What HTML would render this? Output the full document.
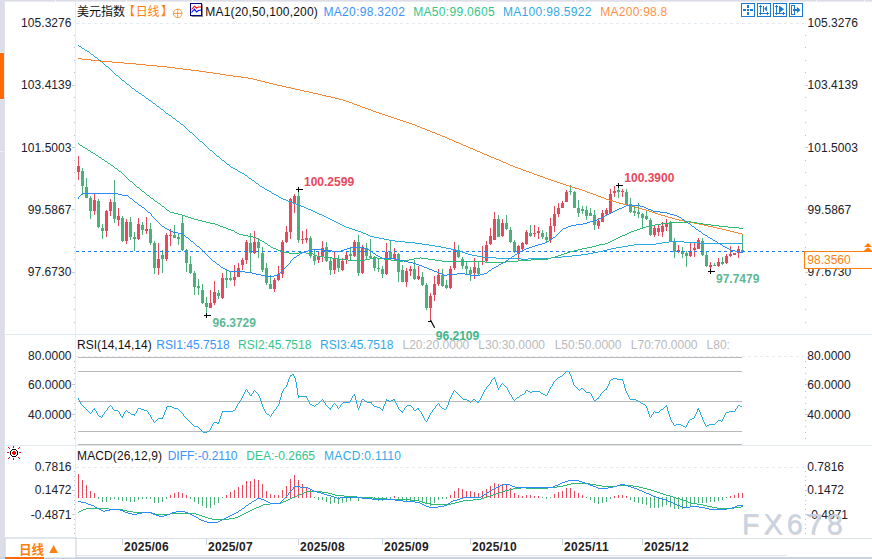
<!DOCTYPE html>
<html><head><meta charset="utf-8"><title>chart</title>
<style>
html,body{margin:0;padding:0;background:#fff;}
body{width:872px;height:559px;overflow:hidden;}
svg{display:block;font-family:"Liberation Sans",sans-serif;}
</style></head><body>
<svg width="872" height="559" viewBox="0 0 872 559">
<rect width="872" height="559" fill="#fff"/>
<rect x="0" y="0" width="872" height="1" fill="#dcdde6" />
<rect x="0" y="1" width="872" height="1" fill="#e9eaf0" />
<rect x="55" y="0" width="1" height="2" fill="#f4f5f8" />
<rect x="126" y="0" width="1" height="2" fill="#f4f5f8" />
<rect x="192" y="0" width="1" height="2" fill="#f4f5f8" />
<rect x="444" y="0" width="1" height="2" fill="#f4f5f8" />
<rect x="575" y="0" width="1" height="2" fill="#f4f5f8" />
<rect x="789" y="0" width="1" height="2" fill="#f4f5f8" />
<rect x="816" y="0" width="1" height="2" fill="#f4f5f8" />
<rect x="864" y="0" width="1" height="2" fill="#f4f5f8" />
<rect x="0" y="0" width="4" height="559" fill="#dcdde6" />
<rect x="4" y="2" width="1" height="557" fill="#e2e3ea" />
<rect x="0" y="53" width="4" height="46" fill="#ff6a00" />
<rect x="4" y="53" width="1" height="46" fill="#e6eef6" />
<rect x="0" y="52" width="5" height="1" fill="#e2e8f0" />
<rect x="0" y="99" width="5" height="1" fill="#dde6f0" />
<rect x="0" y="151" width="4" height="1" fill="#eceef3" />
<rect x="0" y="557" width="872" height="2" fill="#ccd3de" />
<rect x="75" y="2" width="1" height="537" fill="#e6ecf3" />
<rect x="5" y="334" width="867" height="1" fill="#e3e9f1" />
<rect x="5" y="445" width="867" height="1" fill="#e3e9f1" />
<rect x="5" y="538" width="867" height="1" fill="#d9e0ea" />
<rect x="75" y="555" width="712" height="1" fill="#dde5ef" />
<line x1="76" y1="23.5" x2="804" y2="23.5" stroke="#e3eaf1" stroke-width="1" stroke-dasharray="3,3"/>
<line x1="76" y1="356.5" x2="804" y2="356.5" stroke="#e3eaf1" stroke-width="1" stroke-dasharray="3,3"/>
<line x1="76" y1="467.5" x2="804" y2="467.5" stroke="#e3eaf1" stroke-width="1" stroke-dasharray="3,3"/>
<rect x="74" y="35" width="1" height="1" fill="#b4bfcf" />
<rect x="805" y="35" width="1" height="1" fill="#b4bfcf" />
<rect x="74" y="47" width="1" height="1" fill="#b4bfcf" />
<rect x="805" y="47" width="1" height="1" fill="#b4bfcf" />
<rect x="74" y="60" width="1" height="1" fill="#b4bfcf" />
<rect x="805" y="60" width="1" height="1" fill="#b4bfcf" />
<rect x="74" y="72" width="1" height="1" fill="#b4bfcf" />
<rect x="805" y="72" width="1" height="1" fill="#b4bfcf" />
<rect x="72" y="85" width="3" height="1" fill="#c3ccd9" />
<rect x="805" y="85" width="3" height="1" fill="#c3ccd9" />
<rect x="74" y="97" width="1" height="1" fill="#b4bfcf" />
<rect x="805" y="97" width="1" height="1" fill="#b4bfcf" />
<rect x="74" y="110" width="1" height="1" fill="#b4bfcf" />
<rect x="805" y="110" width="1" height="1" fill="#b4bfcf" />
<rect x="74" y="122" width="1" height="1" fill="#b4bfcf" />
<rect x="805" y="122" width="1" height="1" fill="#b4bfcf" />
<rect x="74" y="135" width="1" height="1" fill="#b4bfcf" />
<rect x="805" y="135" width="1" height="1" fill="#b4bfcf" />
<rect x="72" y="147" width="3" height="1" fill="#c3ccd9" />
<rect x="805" y="147" width="3" height="1" fill="#c3ccd9" />
<rect x="74" y="160" width="1" height="1" fill="#b4bfcf" />
<rect x="805" y="160" width="1" height="1" fill="#b4bfcf" />
<rect x="74" y="172" width="1" height="1" fill="#b4bfcf" />
<rect x="805" y="172" width="1" height="1" fill="#b4bfcf" />
<rect x="74" y="185" width="1" height="1" fill="#b4bfcf" />
<rect x="805" y="185" width="1" height="1" fill="#b4bfcf" />
<rect x="74" y="197" width="1" height="1" fill="#b4bfcf" />
<rect x="805" y="197" width="1" height="1" fill="#b4bfcf" />
<rect x="72" y="209" width="3" height="1" fill="#c3ccd9" />
<rect x="805" y="209" width="3" height="1" fill="#c3ccd9" />
<rect x="74" y="222" width="1" height="1" fill="#b4bfcf" />
<rect x="805" y="222" width="1" height="1" fill="#b4bfcf" />
<rect x="74" y="234" width="1" height="1" fill="#b4bfcf" />
<rect x="805" y="234" width="1" height="1" fill="#b4bfcf" />
<rect x="74" y="247" width="1" height="1" fill="#b4bfcf" />
<rect x="805" y="247" width="1" height="1" fill="#b4bfcf" />
<rect x="74" y="259" width="1" height="1" fill="#b4bfcf" />
<rect x="805" y="259" width="1" height="1" fill="#b4bfcf" />
<rect x="72" y="272" width="3" height="1" fill="#c3ccd9" />
<rect x="805" y="272" width="3" height="1" fill="#c3ccd9" />
<rect x="74" y="284" width="1" height="1" fill="#b4bfcf" />
<rect x="805" y="284" width="1" height="1" fill="#b4bfcf" />
<rect x="74" y="297" width="1" height="1" fill="#b4bfcf" />
<rect x="805" y="297" width="1" height="1" fill="#b4bfcf" />
<rect x="74" y="309" width="1" height="1" fill="#b4bfcf" />
<rect x="805" y="309" width="1" height="1" fill="#b4bfcf" />
<rect x="74" y="322" width="1" height="1" fill="#b4bfcf" />
<rect x="805" y="322" width="1" height="1" fill="#b4bfcf" />
<text x="71.5" y="26.9" fill="#20202c" font-size="12" text-anchor="end" font-weight="normal" textLength="50.4">105.3276</text>
<text x="807.5" y="26.9" fill="#20202c" font-size="12" text-anchor="start" font-weight="normal" textLength="50.4">105.3276</text>
<text x="71.5" y="89.23" fill="#20202c" font-size="12" text-anchor="end" font-weight="normal" textLength="50.4">103.4139</text>
<text x="807.5" y="89.23" fill="#20202c" font-size="12" text-anchor="start" font-weight="normal" textLength="50.4">103.4139</text>
<text x="71.5" y="151.57" fill="#20202c" font-size="12" text-anchor="end" font-weight="normal" textLength="50.4">101.5003</text>
<text x="807.5" y="151.57" fill="#20202c" font-size="12" text-anchor="start" font-weight="normal" textLength="50.4">101.5003</text>
<text x="71.5" y="213.9" fill="#20202c" font-size="12" text-anchor="end" font-weight="normal" textLength="43.8">99.5867</text>
<text x="807.5" y="213.9" fill="#20202c" font-size="12" text-anchor="start" font-weight="normal" textLength="43.8">99.5867</text>
<text x="71.5" y="276.23" fill="#20202c" font-size="12" text-anchor="end" font-weight="normal" textLength="43.8">97.6730</text>
<text x="807.5" y="276.23" fill="#20202c" font-size="12" text-anchor="start" font-weight="normal" textLength="43.8">97.6730</text>
<text x="71.5" y="360.2" fill="#20202c" font-size="12" text-anchor="end" font-weight="normal" >80.0000</text>
<text x="807.3" y="360.2" fill="#20202c" font-size="12" text-anchor="start" font-weight="normal" >80.0000</text>
<text x="71.5" y="389.2" fill="#20202c" font-size="12" text-anchor="end" font-weight="normal" >60.0000</text>
<text x="807.3" y="389.2" fill="#20202c" font-size="12" text-anchor="start" font-weight="normal" >60.0000</text>
<rect x="72" y="384" width="3" height="1" fill="#c3ccd9" />
<rect x="805" y="384" width="3" height="1" fill="#c3ccd9" />
<text x="71.5" y="419.2" fill="#20202c" font-size="12" text-anchor="end" font-weight="normal" >40.0000</text>
<text x="807.3" y="419.2" fill="#20202c" font-size="12" text-anchor="start" font-weight="normal" >40.0000</text>
<rect x="72" y="414" width="3" height="1" fill="#c3ccd9" />
<rect x="805" y="414" width="3" height="1" fill="#c3ccd9" />
<rect x="74" y="361" width="1" height="1" fill="#b4bfcf" />
<rect x="805" y="361" width="1" height="1" fill="#b4bfcf" />
<rect x="74" y="367" width="1" height="1" fill="#b4bfcf" />
<rect x="805" y="367" width="1" height="1" fill="#b4bfcf" />
<rect x="74" y="373" width="1" height="1" fill="#b4bfcf" />
<rect x="805" y="373" width="1" height="1" fill="#b4bfcf" />
<rect x="74" y="379" width="1" height="1" fill="#b4bfcf" />
<rect x="805" y="379" width="1" height="1" fill="#b4bfcf" />
<rect x="74" y="391" width="1" height="1" fill="#b4bfcf" />
<rect x="805" y="391" width="1" height="1" fill="#b4bfcf" />
<rect x="74" y="397" width="1" height="1" fill="#b4bfcf" />
<rect x="805" y="397" width="1" height="1" fill="#b4bfcf" />
<rect x="74" y="403" width="1" height="1" fill="#b4bfcf" />
<rect x="805" y="403" width="1" height="1" fill="#b4bfcf" />
<rect x="74" y="409" width="1" height="1" fill="#b4bfcf" />
<rect x="805" y="409" width="1" height="1" fill="#b4bfcf" />
<rect x="74" y="420" width="1" height="1" fill="#b4bfcf" />
<rect x="805" y="420" width="1" height="1" fill="#b4bfcf" />
<rect x="74" y="426" width="1" height="1" fill="#b4bfcf" />
<rect x="805" y="426" width="1" height="1" fill="#b4bfcf" />
<rect x="74" y="432" width="1" height="1" fill="#b4bfcf" />
<rect x="805" y="432" width="1" height="1" fill="#b4bfcf" />
<rect x="74" y="438" width="1" height="1" fill="#b4bfcf" />
<rect x="805" y="438" width="1" height="1" fill="#b4bfcf" />
<text x="71.5" y="471.2" fill="#20202c" font-size="12" text-anchor="end" font-weight="normal" >0.7816</text>
<text x="807.3" y="471.2" fill="#20202c" font-size="12" text-anchor="start" font-weight="normal" >0.7816</text>
<text x="71.5" y="494.2" fill="#20202c" font-size="12" text-anchor="end" font-weight="normal" >0.1472</text>
<text x="807.3" y="494.2" fill="#20202c" font-size="12" text-anchor="start" font-weight="normal" >0.1472</text>
<rect x="72" y="490" width="3" height="1" fill="#c3ccd9" />
<rect x="805" y="490" width="3" height="1" fill="#c3ccd9" />
<text x="71.5" y="518.5" fill="#20202c" font-size="12" text-anchor="end" font-weight="normal" >-0.4871</text>
<text x="807.3" y="518.5" fill="#20202c" font-size="12" text-anchor="start" font-weight="normal" >-0.4871</text>
<rect x="72" y="514" width="3" height="1" fill="#c3ccd9" />
<rect x="805" y="514" width="3" height="1" fill="#c3ccd9" />
<rect x="74" y="471" width="1" height="1" fill="#b4bfcf" />
<rect x="805" y="471" width="1" height="1" fill="#b4bfcf" />
<rect x="74" y="476" width="1" height="1" fill="#b4bfcf" />
<rect x="805" y="476" width="1" height="1" fill="#b4bfcf" />
<rect x="74" y="480" width="1" height="1" fill="#b4bfcf" />
<rect x="805" y="480" width="1" height="1" fill="#b4bfcf" />
<rect x="74" y="485" width="1" height="1" fill="#b4bfcf" />
<rect x="805" y="485" width="1" height="1" fill="#b4bfcf" />
<rect x="74" y="495" width="1" height="1" fill="#b4bfcf" />
<rect x="805" y="495" width="1" height="1" fill="#b4bfcf" />
<rect x="74" y="500" width="1" height="1" fill="#b4bfcf" />
<rect x="805" y="500" width="1" height="1" fill="#b4bfcf" />
<rect x="74" y="504" width="1" height="1" fill="#b4bfcf" />
<rect x="805" y="504" width="1" height="1" fill="#b4bfcf" />
<rect x="74" y="509" width="1" height="1" fill="#b4bfcf" />
<rect x="805" y="509" width="1" height="1" fill="#b4bfcf" />
<rect x="74" y="519" width="1" height="1" fill="#b4bfcf" />
<rect x="805" y="519" width="1" height="1" fill="#b4bfcf" />
<rect x="74" y="524" width="1" height="1" fill="#b4bfcf" />
<rect x="805" y="524" width="1" height="1" fill="#b4bfcf" />
<rect x="74" y="528" width="1" height="1" fill="#b4bfcf" />
<rect x="805" y="528" width="1" height="1" fill="#b4bfcf" />
<rect x="74" y="533" width="1" height="1" fill="#b4bfcf" />
<rect x="805" y="533" width="1" height="1" fill="#b4bfcf" />
<rect x="78" y="357" width="664" height="1" fill="#b8b8b8" />
<rect x="78" y="371" width="664" height="1" fill="#b8b8b8" />
<rect x="78" y="401" width="664" height="1" fill="#b8b8b8" />
<rect x="78" y="431" width="664" height="1" fill="#b8b8b8" />
<rect x="78" y="444" width="664" height="1" fill="#b8b8b8" />
<path d="M78 398h1v2h-1zM79 400h1v2h-1zM80 402h1v2h-1zM81 404h1v1h-1zM82 405h1v1h-1zM83 406h1v1h-1zM84 407h1v1h-1zM85 408h1v1h-1zM86 409h1v1h-1zM87 410h1v1h-1zM88 411h1v1h-1zM89 412h1v1h-1zM90 413h1v1h-1zM91 412h1v1h-1zM92 410h1v2h-1zM93 409h1v1h-1zM94 408h1v2h-1zM95 410h1v1h-1zM96 411h1v2h-1zM97 413h1v2h-1zM98 415h1v1h-1zM99 416h2v1h-2zM101 417h1v1h-1zM102 415h1v2h-1zM103 414h1v1h-1zM104 412h1v2h-1zM105 411h1v1h-1zM106 410h1v1h-1zM107 408h1v2h-1zM108 407h1v1h-1zM109 406h1v1h-1zM110 405h1v1h-1zM111 406h1v1h-1zM112 407h1v2h-1zM113 409h1v1h-1zM114 410h4v1h-4zM118 411h1v1h-1zM119 412h1v2h-1zM120 414h1v2h-1zM121 416h1v1h-1zM122 416h1v2h-1zM123 414h1v2h-1zM124 412h1v2h-1zM125 411h1v1h-1zM126 410h1v1h-1zM127 411h1v1h-1zM128 412h2v1h-2zM130 413h1v1h-1zM131 414h3v1h-3zM134 414h1v2h-1zM135 413h1v1h-1zM136 411h1v2h-1zM137 409h1v2h-1zM138 408h3v1h-3zM141 409h3v1h-3zM144 410h3v1h-3zM147 411h1v1h-1zM148 412h1v2h-1zM149 414h1v1h-1zM150 415h1v2h-1zM151 417h1v2h-1zM152 419h1v1h-1zM153 420h1v2h-1zM154 422h1v1h-1zM155 421h1v1h-1zM156 420h1v1h-1zM157 419h1v1h-1zM158 418h4v1h-4zM162 417h1v2h-1zM163 415h1v2h-1zM164 412h1v3h-1zM165 410h1v2h-1zM166 407h1v3h-1zM167 406h5v1h-5zM172 407h2v1h-2zM174 408h4v1h-4zM178 409h1v1h-1zM179 410h1v1h-1zM180 411h1v1h-1zM181 412h1v1h-1zM182 413h1v1h-1zM183 414h1v2h-1zM184 416h1v1h-1zM185 417h1v1h-1zM186 418h1v1h-1zM187 419h1v1h-1zM188 420h1v1h-1zM189 421h1v1h-1zM190 422h1v1h-1zM191 423h1v1h-1zM192 424h1v1h-1zM193 425h1v1h-1zM194 426h4v1h-4zM198 427h1v1h-1zM199 428h1v1h-1zM200 429h1v1h-1zM201 430h1v1h-1zM202 431h1v1h-1zM203 432h4v1h-4zM207 431h2v1h-2zM209 430h1v1h-1zM210 428h1v2h-1zM211 426h1v2h-1zM212 424h1v2h-1zM213 423h1v1h-1zM214 422h3v1h-3zM217 423h1v1h-1zM218 422h1v2h-1zM219 419h1v3h-1zM220 416h1v3h-1zM221 413h1v3h-1zM222 411h1v2h-1zM223 411h10v1h-10zM233 410h2v1h-2zM235 408h1v2h-1zM236 406h1v2h-1zM237 404h1v2h-1zM238 403h1v1h-1zM239 401h1v2h-1zM240 400h1v1h-1zM241 398h1v2h-1zM242 396h1v2h-1zM243 394h1v2h-1zM244 392h1v2h-1zM245 390h1v2h-1zM246 389h1v1h-1zM247 390h1v2h-1zM248 392h1v1h-1zM249 393h1v2h-1zM250 395h1v1h-1zM251 394h1v2h-1zM252 393h1v1h-1zM253 391h1v2h-1zM254 390h1v1h-1zM255 391h1v1h-1zM256 392h1v1h-1zM257 393h1v1h-1zM258 394h1v2h-1zM259 396h1v2h-1zM260 398h1v3h-1zM261 401h1v3h-1zM262 404h1v3h-1zM263 407h1v2h-1zM264 409h1v2h-1zM265 411h1v2h-1zM266 413h1v1h-1zM267 414h2v1h-2zM269 415h1v1h-1zM270 416h1v1h-1zM271 414h1v2h-1zM272 413h1v1h-1zM273 411h1v2h-1zM274 410h1v1h-1zM275 409h1v1h-1zM276 407h1v2h-1zM277 406h1v1h-1zM278 404h1v2h-1zM279 400h1v4h-1zM280 397h1v3h-1zM281 393h1v4h-1zM282 391h1v2h-1zM283 389h1v2h-1zM284 388h1v1h-1zM285 387h1v1h-1zM286 385h1v2h-1zM287 382h1v3h-1zM288 379h1v3h-1zM289 377h1v2h-1zM290 375h1v2h-1zM291 375h1v1h-1zM292 374h1v1h-1zM293 374h1v2h-1zM294 376h1v2h-1zM295 378h1v4h-1zM296 382h1v6h-1zM297 388h1v7h-1zM298 395h1v3h-1zM299 396h7v1h-7zM306 396h1v2h-1zM307 398h1v2h-1zM308 400h1v2h-1zM309 402h1v2h-1zM310 404h2v1h-2zM312 405h2v1h-2zM314 406h1v1h-1zM315 405h1v1h-1zM316 404h2v1h-2zM318 403h1v1h-1zM319 402h1v1h-1zM320 401h1v1h-1zM321 400h1v1h-1zM322 399h1v1h-1zM323 400h1v2h-1zM324 402h1v1h-1zM325 403h1v2h-1zM326 405h1v1h-1zM327 406h1v1h-1zM328 407h1v1h-1zM329 408h1v1h-1zM330 408h1v2h-1zM331 407h1v1h-1zM332 405h1v2h-1zM333 404h1v1h-1zM334 403h1v1h-1zM335 404h1v1h-1zM336 405h1v1h-1zM337 406h1v2h-1zM338 408h1v1h-1zM339 407h1v1h-1zM340 405h1v2h-1zM341 404h1v1h-1zM342 403h1v1h-1zM343 402h7v1h-7zM350 400h1v2h-1zM351 398h1v2h-1zM352 396h1v2h-1zM353 395h1v1h-1zM354 394h1v2h-1zM355 396h1v4h-1zM356 400h1v4h-1zM357 404h1v4h-1zM358 408h1v2h-1zM359 406h1v2h-1zM360 403h1v3h-1zM361 400h1v3h-1zM362 399h2v1h-2zM364 400h1v1h-1zM365 401h2v1h-2zM367 402h4v1h-4zM371 402h1v2h-1zM372 404h1v1h-1zM373 405h1v1h-1zM374 406h3v1h-3zM377 407h3v1h-3zM380 408h1v1h-1zM381 409h1v1h-1zM382 409h1v2h-1zM383 406h1v3h-1zM384 404h1v2h-1zM385 401h1v3h-1zM386 399h1v2h-1zM387 400h2v1h-2zM389 401h2v1h-2zM391 400h2v1h-2zM393 399h1v1h-1zM394 399h1v2h-1zM395 401h1v2h-1zM396 403h1v2h-1zM397 405h1v2h-1zM398 407h1v2h-1zM399 409h1v1h-1zM400 410h1v1h-1zM401 411h1v1h-1zM402 411h1v2h-1zM403 410h1v1h-1zM404 408h1v2h-1zM405 407h1v1h-1zM406 406h1v1h-1zM407 405h4v1h-4zM411 406h1v1h-1zM412 407h1v1h-1zM413 408h1v2h-1zM414 410h2v1h-2zM416 409h1v1h-1zM417 408h1v1h-1zM418 408h1v2h-1zM419 410h1v1h-1zM420 411h1v1h-1zM421 412h1v2h-1zM422 414h1v2h-1zM423 416h1v2h-1zM424 418h1v2h-1zM425 420h1v1h-1zM426 421h1v1h-1zM427 419h1v2h-1zM428 417h1v2h-1zM429 415h1v2h-1zM430 413h1v2h-1zM431 412h1v1h-1zM432 410h1v2h-1zM433 409h1v1h-1zM434 408h1v1h-1zM435 406h1v2h-1zM436 405h1v1h-1zM437 404h1v1h-1zM438 403h1v1h-1zM439 404h1v2h-1zM440 406h1v1h-1zM441 407h1v1h-1zM442 408h2v1h-2zM444 409h2v1h-2zM446 407h1v2h-1zM447 405h1v2h-1zM448 402h1v3h-1zM449 399h1v3h-1zM450 397h1v2h-1zM451 395h1v2h-1zM452 393h1v2h-1zM453 391h1v2h-1zM454 390h1v1h-1zM455 391h1v1h-1zM456 392h1v1h-1zM457 393h1v1h-1zM458 394h1v1h-1zM459 395h1v1h-1zM460 396h1v1h-1zM461 397h1v1h-1zM462 398h1v1h-1zM463 399h4v1h-4zM467 400h2v1h-2zM469 401h1v1h-1zM470 402h1v1h-1zM471 401h1v1h-1zM472 400h1v1h-1zM473 399h2v1h-2zM475 400h1v1h-1zM476 401h1v1h-1zM477 402h1v1h-1zM478 401h1v2h-1zM479 400h1v1h-1zM480 398h1v2h-1zM481 396h1v2h-1zM482 394h1v2h-1zM483 392h1v2h-1zM484 390h1v2h-1zM485 389h1v1h-1zM486 387h1v2h-1zM487 386h1v1h-1zM488 385h1v1h-1zM489 384h1v1h-1zM490 382h1v2h-1zM491 380h1v2h-1zM492 379h1v1h-1zM493 378h1v1h-1zM494 377h1v2h-1zM495 379h1v3h-1zM496 382h1v3h-1zM497 385h1v3h-1zM498 388h1v2h-1zM499 387h1v1h-1zM500 385h1v2h-1zM501 384h1v1h-1zM502 383h1v1h-1zM503 384h1v1h-1zM504 385h1v1h-1zM505 386h1v1h-1zM506 387h1v1h-1zM507 388h1v2h-1zM508 390h1v2h-1zM509 392h1v2h-1zM510 394h1v1h-1zM511 395h1v2h-1zM512 397h1v2h-1zM513 399h1v1h-1zM514 400h1v1h-1zM515 399h1v1h-1zM516 398h1v1h-1zM517 397h2v1h-2zM519 396h1v1h-1zM520 395h2v1h-2zM522 394h2v1h-2zM524 393h1v1h-1zM525 391h1v2h-1zM526 390h2v1h-2zM528 391h2v1h-2zM530 392h2v1h-2zM532 391h8v1h-8zM540 392h1v1h-1zM541 393h2v1h-2zM543 394h2v1h-2zM545 395h2v1h-2zM547 393h1v2h-1zM548 391h1v2h-1zM549 389h1v2h-1zM550 387h1v2h-1zM551 386h1v1h-1zM552 384h1v2h-1zM553 382h1v2h-1zM554 381h1v1h-1zM555 380h1v1h-1zM556 379h1v1h-1zM557 378h1v1h-1zM558 377h2v1h-2zM560 376h2v1h-2zM562 375h1v1h-1zM563 374h1v1h-1zM564 373h1v1h-1zM565 372h1v1h-1zM566 371h3v1h-3zM569 372h1v2h-1zM570 374h1v2h-1zM571 376h1v3h-1zM572 379h1v3h-1zM573 382h1v3h-1zM574 385h1v1h-1zM575 386h1v1h-1zM576 387h1v1h-1zM577 388h1v1h-1zM578 389h1v1h-1zM579 390h1v1h-1zM580 389h1v1h-1zM581 388h2v1h-2zM583 389h1v1h-1zM584 390h1v1h-1zM585 391h1v1h-1zM586 392h4v1h-4zM590 393h1v1h-1zM591 394h1v2h-1zM592 396h1v2h-1zM593 398h1v2h-1zM594 400h2v1h-2zM596 399h1v1h-1zM597 398h1v1h-1zM598 397h1v2h-1zM599 396h1v1h-1zM600 394h1v2h-1zM601 393h1v1h-1zM602 392h1v1h-1zM603 391h1v1h-1zM604 390h1v1h-1zM605 389h1v1h-1zM606 388h1v2h-1zM607 386h1v2h-1zM608 384h1v2h-1zM609 381h1v3h-1zM610 380h1v1h-1zM611 379h2v1h-2zM613 378h4v1h-4zM617 379h5v1h-5zM622 379h1v2h-1zM623 381h1v3h-1zM624 384h1v4h-1zM625 388h1v3h-1zM626 391h1v2h-1zM627 393h1v2h-1zM628 395h1v2h-1zM629 397h1v2h-1zM630 399h6v1h-6zM636 400h2v1h-2zM638 401h2v1h-2zM640 402h1v1h-1zM641 403h2v1h-2zM643 404h2v1h-2zM645 405h1v1h-1zM646 406h1v2h-1zM647 408h1v3h-1zM648 411h1v3h-1zM649 414h1v3h-1zM650 417h1v1h-1zM651 415h1v2h-1zM652 414h1v1h-1zM653 412h1v2h-1zM654 411h1v1h-1zM655 412h4v1h-4zM659 411h1v1h-1zM660 410h1v1h-1zM661 409h2v1h-2zM663 408h1v1h-1zM664 407h1v1h-1zM665 406h1v1h-1zM666 405h1v2h-1zM667 407h1v4h-1zM668 411h1v3h-1zM669 414h1v3h-1zM670 417h1v3h-1zM671 420h1v2h-1zM672 422h1v1h-1zM673 423h1v2h-1zM674 425h2v1h-2zM676 424h5v1h-5zM681 425h2v1h-2zM683 426h2v1h-2zM685 427h1v1h-1zM686 425h1v2h-1zM687 423h1v2h-1zM688 421h1v2h-1zM689 420h1v1h-1zM690 419h2v1h-2zM692 418h2v1h-2zM694 416h1v2h-1zM695 414h1v2h-1zM696 412h1v2h-1zM697 409h1v3h-1zM698 408h1v2h-1zM699 410h1v2h-1zM700 412h1v3h-1zM701 415h1v2h-1zM702 417h1v3h-1zM703 420h1v2h-1zM704 422h1v2h-1zM705 424h1v2h-1zM706 426h1v1h-1zM707 425h2v1h-2zM709 424h6v1h-6zM715 423h1v1h-1zM716 422h1v1h-1zM717 421h1v1h-1zM718 420h3v1h-3zM721 421h1v1h-1zM722 419h1v2h-1zM723 417h1v2h-1zM724 415h1v2h-1zM725 413h1v2h-1zM726 412h3v1h-3zM729 411h6v1h-6zM735 409h1v2h-1zM736 408h1v1h-1zM737 406h1v2h-1zM738 405h2v1h-2zM740 406h2v1h-2z" fill="#29abe2"/>
<g shape-rendering="crispEdges">
<rect x="78" y="156" width="1" height="24" fill="#e8485c" />
<rect x="77" y="166" width="3" height="6" fill="#e8485c" />
<rect x="82" y="168" width="1" height="27" fill="#4cb07a" />
<rect x="81" y="171" width="3" height="15" fill="#4cb07a" />
<rect x="86" y="178" width="1" height="20" fill="#4cb07a" />
<rect x="85" y="187" width="3" height="11" fill="#4cb07a" />
<rect x="90" y="196" width="1" height="23" fill="#4cb07a" />
<rect x="89" y="198" width="3" height="13" fill="#4cb07a" />
<rect x="94" y="194" width="1" height="21" fill="#e8485c" />
<rect x="93" y="200" width="3" height="11" fill="#e8485c" />
<rect x="98" y="199" width="1" height="29" fill="#4cb07a" />
<rect x="97" y="201" width="3" height="26" fill="#4cb07a" />
<rect x="102" y="224" width="1" height="15" fill="#4cb07a" />
<rect x="101" y="228" width="3" height="3" fill="#4cb07a" />
<rect x="106" y="210" width="1" height="27" fill="#e8485c" />
<rect x="105" y="211" width="3" height="20" fill="#e8485c" />
<rect x="110" y="199" width="1" height="17" fill="#e8485c" />
<rect x="109" y="202" width="3" height="9" fill="#e8485c" />
<rect x="114" y="180" width="1" height="43" fill="#4cb07a" />
<rect x="113" y="202" width="3" height="17" fill="#4cb07a" />
<rect x="118" y="208" width="1" height="18" fill="#e8485c" />
<rect x="117" y="216" width="3" height="4" fill="#e8485c" />
<rect x="122" y="216" width="1" height="26" fill="#4cb07a" />
<rect x="121" y="218" width="3" height="23" fill="#4cb07a" />
<rect x="126" y="219" width="1" height="25" fill="#e8485c" />
<rect x="125" y="222" width="3" height="19" fill="#e8485c" />
<rect x="130" y="217" width="1" height="23" fill="#4cb07a" />
<rect x="129" y="222" width="3" height="15" fill="#4cb07a" />
<rect x="134" y="232" width="1" height="19" fill="#4cb07a" />
<rect x="133" y="237" width="3" height="2" fill="#4cb07a" />
<rect x="138" y="218" width="1" height="22" fill="#e8485c" />
<rect x="137" y="224" width="3" height="15" fill="#e8485c" />
<rect x="142" y="222" width="1" height="13" fill="#4cb07a" />
<rect x="141" y="225" width="3" height="5" fill="#4cb07a" />
<rect x="146" y="217" width="1" height="17" fill="#e8485c" />
<rect x="145" y="229" width="3" height="2" fill="#e8485c" />
<rect x="150" y="223" width="1" height="22" fill="#4cb07a" />
<rect x="149" y="229" width="3" height="14" fill="#4cb07a" />
<rect x="154" y="241" width="1" height="33" fill="#4cb07a" />
<rect x="153" y="243" width="3" height="25" fill="#4cb07a" />
<rect x="158" y="243" width="1" height="32" fill="#e8485c" />
<rect x="157" y="259" width="3" height="9" fill="#e8485c" />
<rect x="162" y="250" width="1" height="23" fill="#4cb07a" />
<rect x="161" y="255" width="3" height="4" fill="#4cb07a" />
<rect x="166" y="233" width="1" height="28" fill="#e8485c" />
<rect x="165" y="235" width="3" height="24" fill="#e8485c" />
<rect x="170" y="229" width="1" height="17" fill="#e8485c" />
<rect x="169" y="235" width="3" height="1" fill="#e8485c" />
<rect x="174" y="225" width="1" height="13" fill="#4cb07a" />
<rect x="173" y="235" width="3" height="3" fill="#4cb07a" />
<rect x="178" y="234" width="1" height="11" fill="#4cb07a" />
<rect x="177" y="237" width="3" height="2" fill="#4cb07a" />
<rect x="182" y="215" width="1" height="36" fill="#4cb07a" />
<rect x="181" y="223" width="3" height="27" fill="#4cb07a" />
<rect x="186" y="249" width="1" height="23" fill="#4cb07a" />
<rect x="185" y="250" width="3" height="13" fill="#4cb07a" />
<rect x="190" y="256" width="1" height="18" fill="#4cb07a" />
<rect x="189" y="264" width="3" height="9" fill="#4cb07a" />
<rect x="194" y="271" width="1" height="24" fill="#4cb07a" />
<rect x="193" y="273" width="3" height="14" fill="#4cb07a" />
<rect x="198" y="279" width="1" height="16" fill="#4cb07a" />
<rect x="197" y="286" width="3" height="2" fill="#4cb07a" />
<rect x="202" y="284" width="1" height="20" fill="#4cb07a" />
<rect x="201" y="290" width="3" height="13" fill="#4cb07a" />
<rect x="206" y="297" width="1" height="18" fill="#4cb07a" />
<rect x="205" y="303" width="3" height="4" fill="#4cb07a" />
<rect x="210" y="290" width="1" height="18" fill="#e8485c" />
<rect x="209" y="303" width="3" height="5" fill="#e8485c" />
<rect x="214" y="281" width="1" height="24" fill="#e8485c" />
<rect x="213" y="292" width="3" height="11" fill="#e8485c" />
<rect x="218" y="290" width="1" height="9" fill="#4cb07a" />
<rect x="217" y="293" width="3" height="3" fill="#4cb07a" />
<rect x="222" y="273" width="1" height="26" fill="#e8485c" />
<rect x="221" y="278" width="3" height="20" fill="#e8485c" />
<rect x="226" y="269" width="1" height="19" fill="#4cb07a" />
<rect x="225" y="278" width="3" height="2" fill="#4cb07a" />
<rect x="230" y="271" width="1" height="10" fill="#4cb07a" />
<rect x="229" y="278" width="3" height="2" fill="#4cb07a" />
<rect x="234" y="265" width="1" height="21" fill="#e8485c" />
<rect x="233" y="277" width="3" height="3" fill="#e8485c" />
<rect x="238" y="263" width="1" height="14" fill="#e8485c" />
<rect x="237" y="268" width="3" height="9" fill="#e8485c" />
<rect x="242" y="258" width="1" height="12" fill="#e8485c" />
<rect x="241" y="260" width="3" height="5" fill="#e8485c" />
<rect x="246" y="240" width="1" height="24" fill="#e8485c" />
<rect x="245" y="242" width="3" height="18" fill="#e8485c" />
<rect x="250" y="233" width="1" height="39" fill="#4cb07a" />
<rect x="249" y="243" width="3" height="10" fill="#4cb07a" />
<rect x="254" y="231" width="1" height="23" fill="#e8485c" />
<rect x="253" y="242" width="3" height="11" fill="#e8485c" />
<rect x="258" y="238" width="1" height="20" fill="#4cb07a" />
<rect x="257" y="242" width="3" height="6" fill="#4cb07a" />
<rect x="262" y="247" width="1" height="25" fill="#4cb07a" />
<rect x="261" y="253" width="3" height="17" fill="#4cb07a" />
<rect x="266" y="263" width="1" height="22" fill="#4cb07a" />
<rect x="265" y="268" width="3" height="15" fill="#4cb07a" />
<rect x="270" y="275" width="1" height="14" fill="#4cb07a" />
<rect x="269" y="284" width="3" height="5" fill="#4cb07a" />
<rect x="274" y="278" width="1" height="14" fill="#e8485c" />
<rect x="273" y="280" width="3" height="9" fill="#e8485c" />
<rect x="278" y="266" width="1" height="15" fill="#e8485c" />
<rect x="277" y="274" width="3" height="6" fill="#e8485c" />
<rect x="282" y="240" width="1" height="38" fill="#e8485c" />
<rect x="281" y="242" width="3" height="32" fill="#e8485c" />
<rect x="286" y="226" width="1" height="17" fill="#e8485c" />
<rect x="285" y="232" width="3" height="10" fill="#e8485c" />
<rect x="290" y="198" width="1" height="41" fill="#e8485c" />
<rect x="289" y="199" width="3" height="33" fill="#e8485c" />
<rect x="294" y="194" width="1" height="19" fill="#e8485c" />
<rect x="293" y="196" width="3" height="7" fill="#e8485c" />
<rect x="298" y="191" width="1" height="52" fill="#4cb07a" />
<rect x="297" y="196" width="3" height="44" fill="#4cb07a" />
<rect x="302" y="231" width="1" height="13" fill="#e8485c" />
<rect x="301" y="239" width="3" height="1" fill="#e8485c" />
<rect x="306" y="229" width="1" height="14" fill="#e8485c" />
<rect x="305" y="238" width="3" height="2" fill="#e8485c" />
<rect x="310" y="236" width="1" height="22" fill="#4cb07a" />
<rect x="309" y="238" width="3" height="18" fill="#4cb07a" />
<rect x="314" y="249" width="1" height="16" fill="#4cb07a" />
<rect x="313" y="256" width="3" height="5" fill="#4cb07a" />
<rect x="318" y="251" width="1" height="12" fill="#e8485c" />
<rect x="317" y="256" width="3" height="4" fill="#e8485c" />
<rect x="322" y="241" width="1" height="21" fill="#e8485c" />
<rect x="321" y="248" width="3" height="8" fill="#e8485c" />
<rect x="326" y="242" width="1" height="20" fill="#4cb07a" />
<rect x="325" y="247" width="3" height="14" fill="#4cb07a" />
<rect x="330" y="258" width="1" height="17" fill="#4cb07a" />
<rect x="329" y="261" width="3" height="9" fill="#4cb07a" />
<rect x="334" y="252" width="1" height="22" fill="#e8485c" />
<rect x="333" y="259" width="3" height="11" fill="#e8485c" />
<rect x="338" y="255" width="1" height="17" fill="#4cb07a" />
<rect x="337" y="259" width="3" height="9" fill="#4cb07a" />
<rect x="342" y="258" width="1" height="13" fill="#e8485c" />
<rect x="341" y="261" width="3" height="9" fill="#e8485c" />
<rect x="346" y="251" width="1" height="13" fill="#e8485c" />
<rect x="345" y="255" width="3" height="5" fill="#e8485c" />
<rect x="350" y="248" width="1" height="12" fill="#4cb07a" />
<rect x="349" y="254" width="3" height="2" fill="#4cb07a" />
<rect x="354" y="240" width="1" height="17" fill="#e8485c" />
<rect x="353" y="242" width="3" height="14" fill="#e8485c" />
<rect x="358" y="235" width="1" height="41" fill="#4cb07a" />
<rect x="357" y="242" width="3" height="31" fill="#4cb07a" />
<rect x="362" y="245" width="1" height="29" fill="#e8485c" />
<rect x="361" y="247" width="3" height="26" fill="#e8485c" />
<rect x="366" y="243" width="1" height="17" fill="#4cb07a" />
<rect x="365" y="248" width="3" height="8" fill="#4cb07a" />
<rect x="370" y="239" width="1" height="19" fill="#4cb07a" />
<rect x="369" y="256" width="3" height="2" fill="#4cb07a" />
<rect x="374" y="256" width="1" height="15" fill="#4cb07a" />
<rect x="373" y="257" width="3" height="11" fill="#4cb07a" />
<rect x="378" y="258" width="1" height="14" fill="#4cb07a" />
<rect x="377" y="268" width="3" height="1" fill="#4cb07a" />
<rect x="382" y="266" width="1" height="12" fill="#4cb07a" />
<rect x="381" y="269" width="3" height="5" fill="#4cb07a" />
<rect x="386" y="243" width="1" height="32" fill="#e8485c" />
<rect x="385" y="252" width="3" height="22" fill="#e8485c" />
<rect x="390" y="241" width="1" height="19" fill="#4cb07a" />
<rect x="389" y="252" width="3" height="7" fill="#4cb07a" />
<rect x="394" y="248" width="1" height="12" fill="#e8485c" />
<rect x="393" y="254" width="3" height="5" fill="#e8485c" />
<rect x="398" y="253" width="1" height="29" fill="#4cb07a" />
<rect x="397" y="254" width="3" height="18" fill="#4cb07a" />
<rect x="402" y="265" width="1" height="17" fill="#4cb07a" />
<rect x="401" y="270" width="3" height="12" fill="#4cb07a" />
<rect x="406" y="268" width="1" height="19" fill="#e8485c" />
<rect x="405" y="271" width="3" height="11" fill="#e8485c" />
<rect x="410" y="266" width="1" height="10" fill="#e8485c" />
<rect x="409" y="269" width="3" height="2" fill="#e8485c" />
<rect x="414" y="260" width="1" height="20" fill="#4cb07a" />
<rect x="413" y="269" width="3" height="10" fill="#4cb07a" />
<rect x="418" y="266" width="1" height="14" fill="#e8485c" />
<rect x="417" y="276" width="3" height="3" fill="#e8485c" />
<rect x="422" y="272" width="1" height="14" fill="#4cb07a" />
<rect x="421" y="277" width="3" height="8" fill="#4cb07a" />
<rect x="426" y="283" width="1" height="27" fill="#4cb07a" />
<rect x="425" y="285" width="3" height="23" fill="#4cb07a" />
<rect x="430" y="293" width="1" height="27" fill="#e8485c" />
<rect x="429" y="296" width="3" height="12" fill="#e8485c" />
<rect x="434" y="276" width="1" height="25" fill="#e8485c" />
<rect x="433" y="284" width="3" height="11" fill="#e8485c" />
<rect x="438" y="269" width="1" height="17" fill="#e8485c" />
<rect x="437" y="275" width="3" height="9" fill="#e8485c" />
<rect x="442" y="269" width="1" height="18" fill="#4cb07a" />
<rect x="441" y="275" width="3" height="11" fill="#4cb07a" />
<rect x="446" y="280" width="1" height="9" fill="#4cb07a" />
<rect x="445" y="285" width="3" height="3" fill="#4cb07a" />
<rect x="450" y="266" width="1" height="23" fill="#e8485c" />
<rect x="449" y="269" width="3" height="19" fill="#e8485c" />
<rect x="454" y="242" width="1" height="28" fill="#e8485c" />
<rect x="453" y="250" width="3" height="18" fill="#e8485c" />
<rect x="458" y="245" width="1" height="13" fill="#4cb07a" />
<rect x="457" y="250" width="3" height="7" fill="#4cb07a" />
<rect x="462" y="257" width="1" height="12" fill="#4cb07a" />
<rect x="461" y="259" width="3" height="7" fill="#4cb07a" />
<rect x="466" y="261" width="1" height="13" fill="#4cb07a" />
<rect x="465" y="266" width="3" height="3" fill="#4cb07a" />
<rect x="470" y="267" width="1" height="14" fill="#4cb07a" />
<rect x="469" y="270" width="3" height="4" fill="#4cb07a" />
<rect x="474" y="258" width="1" height="21" fill="#e8485c" />
<rect x="473" y="267" width="3" height="6" fill="#e8485c" />
<rect x="478" y="262" width="1" height="13" fill="#4cb07a" />
<rect x="477" y="268" width="3" height="6" fill="#4cb07a" />
<rect x="482" y="246" width="1" height="19" fill="#e8485c" />
<rect x="486" y="241" width="1" height="21" fill="#e8485c" />
<rect x="485" y="245" width="3" height="16" fill="#e8485c" />
<rect x="490" y="228" width="1" height="17" fill="#e8485c" />
<rect x="489" y="236" width="3" height="8" fill="#e8485c" />
<rect x="494" y="212" width="1" height="28" fill="#e8485c" />
<rect x="493" y="219" width="3" height="21" fill="#e8485c" />
<rect x="498" y="215" width="1" height="22" fill="#4cb07a" />
<rect x="497" y="219" width="3" height="18" fill="#4cb07a" />
<rect x="502" y="219" width="1" height="18" fill="#e8485c" />
<rect x="501" y="223" width="3" height="13" fill="#e8485c" />
<rect x="506" y="215" width="1" height="15" fill="#4cb07a" />
<rect x="505" y="223" width="3" height="6" fill="#4cb07a" />
<rect x="510" y="227" width="1" height="16" fill="#4cb07a" />
<rect x="509" y="230" width="3" height="12" fill="#4cb07a" />
<rect x="514" y="240" width="1" height="13" fill="#4cb07a" />
<rect x="513" y="242" width="3" height="10" fill="#4cb07a" />
<rect x="518" y="245" width="1" height="16" fill="#e8485c" />
<rect x="517" y="246" width="3" height="8" fill="#e8485c" />
<rect x="522" y="242" width="1" height="8" fill="#e8485c" />
<rect x="521" y="243" width="3" height="6" fill="#e8485c" />
<rect x="526" y="230" width="1" height="15" fill="#e8485c" />
<rect x="525" y="232" width="3" height="12" fill="#e8485c" />
<rect x="530" y="225" width="1" height="12" fill="#4cb07a" />
<rect x="529" y="233" width="3" height="3" fill="#4cb07a" />
<rect x="534" y="225" width="1" height="12" fill="#e8485c" />
<rect x="533" y="233" width="3" height="1" fill="#e8485c" />
<rect x="538" y="227" width="1" height="12" fill="#e8485c" />
<rect x="537" y="231" width="3" height="2" fill="#e8485c" />
<rect x="542" y="230" width="1" height="9" fill="#4cb07a" />
<rect x="541" y="233" width="3" height="4" fill="#4cb07a" />
<rect x="546" y="232" width="1" height="11" fill="#4cb07a" />
<rect x="545" y="237" width="3" height="3" fill="#4cb07a" />
<rect x="550" y="218" width="1" height="25" fill="#e8485c" />
<rect x="549" y="226" width="3" height="14" fill="#e8485c" />
<rect x="554" y="206" width="1" height="26" fill="#e8485c" />
<rect x="553" y="214" width="3" height="12" fill="#e8485c" />
<rect x="558" y="203" width="1" height="14" fill="#e8485c" />
<rect x="557" y="208" width="3" height="6" fill="#e8485c" />
<rect x="562" y="201" width="1" height="7" fill="#e8485c" />
<rect x="561" y="203" width="3" height="5" fill="#e8485c" />
<rect x="566" y="190" width="1" height="12" fill="#e8485c" />
<rect x="565" y="192" width="3" height="10" fill="#e8485c" />
<rect x="570" y="185" width="1" height="10" fill="#4cb07a" />
<rect x="569" y="191" width="3" height="1" fill="#4cb07a" />
<rect x="574" y="191" width="1" height="17" fill="#4cb07a" />
<rect x="573" y="192" width="3" height="16" fill="#4cb07a" />
<rect x="578" y="200" width="1" height="17" fill="#4cb07a" />
<rect x="577" y="208" width="3" height="5" fill="#4cb07a" />
<rect x="582" y="206" width="1" height="8" fill="#4cb07a" />
<rect x="581" y="209" width="3" height="2" fill="#4cb07a" />
<rect x="586" y="206" width="1" height="14" fill="#4cb07a" />
<rect x="585" y="210" width="3" height="6" fill="#4cb07a" />
<rect x="590" y="208" width="1" height="8" fill="#4cb07a" />
<rect x="589" y="213" width="3" height="3" fill="#4cb07a" />
<rect x="594" y="210" width="1" height="20" fill="#4cb07a" />
<rect x="593" y="215" width="3" height="10" fill="#4cb07a" />
<rect x="598" y="218" width="1" height="11" fill="#e8485c" />
<rect x="597" y="221" width="3" height="5" fill="#e8485c" />
<rect x="602" y="210" width="1" height="12" fill="#e8485c" />
<rect x="601" y="213" width="3" height="9" fill="#e8485c" />
<rect x="606" y="208" width="1" height="8" fill="#e8485c" />
<rect x="605" y="210" width="3" height="4" fill="#e8485c" />
<rect x="610" y="189" width="1" height="24" fill="#e8485c" />
<rect x="609" y="194" width="3" height="19" fill="#e8485c" />
<rect x="614" y="186" width="1" height="11" fill="#e8485c" />
<rect x="613" y="191" width="3" height="2" fill="#e8485c" />
<rect x="618" y="187" width="1" height="11" fill="#4cb07a" />
<rect x="617" y="190" width="3" height="2" fill="#4cb07a" />
<rect x="622" y="189" width="1" height="8" fill="#e8485c" />
<rect x="621" y="191" width="3" height="1" fill="#e8485c" />
<rect x="626" y="189" width="1" height="17" fill="#4cb07a" />
<rect x="625" y="192" width="3" height="13" fill="#4cb07a" />
<rect x="630" y="198" width="1" height="15" fill="#4cb07a" />
<rect x="629" y="204" width="3" height="8" fill="#4cb07a" />
<rect x="634" y="207" width="1" height="9" fill="#4cb07a" />
<rect x="633" y="211" width="3" height="2" fill="#4cb07a" />
<rect x="638" y="203" width="1" height="15" fill="#4cb07a" />
<rect x="637" y="212" width="3" height="2" fill="#4cb07a" />
<rect x="642" y="213" width="1" height="16" fill="#4cb07a" />
<rect x="641" y="214" width="3" height="4" fill="#4cb07a" />
<rect x="646" y="211" width="1" height="9" fill="#4cb07a" />
<rect x="645" y="216" width="3" height="3" fill="#4cb07a" />
<rect x="650" y="218" width="1" height="18" fill="#4cb07a" />
<rect x="649" y="220" width="3" height="15" fill="#4cb07a" />
<rect x="654" y="226" width="1" height="11" fill="#e8485c" />
<rect x="653" y="228" width="3" height="7" fill="#e8485c" />
<rect x="658" y="225" width="1" height="11" fill="#e8485c" />
<rect x="657" y="228" width="3" height="4" fill="#e8485c" />
<rect x="662" y="222" width="1" height="15" fill="#e8485c" />
<rect x="661" y="226" width="3" height="6" fill="#e8485c" />
<rect x="666" y="219" width="1" height="12" fill="#e8485c" />
<rect x="665" y="224" width="3" height="3" fill="#e8485c" />
<rect x="670" y="221" width="1" height="21" fill="#4cb07a" />
<rect x="669" y="223" width="3" height="19" fill="#4cb07a" />
<rect x="674" y="238" width="1" height="20" fill="#4cb07a" />
<rect x="673" y="242" width="3" height="10" fill="#4cb07a" />
<rect x="678" y="245" width="1" height="8" fill="#e8485c" />
<rect x="677" y="250" width="3" height="2" fill="#e8485c" />
<rect x="682" y="247" width="1" height="11" fill="#4cb07a" />
<rect x="681" y="251" width="3" height="3" fill="#4cb07a" />
<rect x="686" y="251" width="1" height="16" fill="#4cb07a" />
<rect x="685" y="253" width="3" height="3" fill="#4cb07a" />
<rect x="690" y="243" width="1" height="14" fill="#e8485c" />
<rect x="689" y="251" width="3" height="5" fill="#e8485c" />
<rect x="694" y="243" width="1" height="14" fill="#e8485c" />
<rect x="693" y="248" width="3" height="2" fill="#e8485c" />
<rect x="698" y="238" width="1" height="11" fill="#e8485c" />
<rect x="697" y="240" width="3" height="9" fill="#e8485c" />
<rect x="702" y="238" width="1" height="18" fill="#4cb07a" />
<rect x="701" y="241" width="3" height="14" fill="#4cb07a" />
<rect x="706" y="252" width="1" height="15" fill="#4cb07a" />
<rect x="705" y="255" width="3" height="11" fill="#4cb07a" />
<rect x="710" y="262" width="1" height="8" fill="#e8485c" />
<rect x="709" y="265" width="3" height="2" fill="#e8485c" />
<rect x="714" y="263" width="1" height="3" fill="#4cb07a" />
<rect x="713" y="265" width="3" height="1" fill="#4cb07a" />
<rect x="718" y="258" width="1" height="9" fill="#e8485c" />
<rect x="717" y="262" width="3" height="4" fill="#e8485c" />
<rect x="722" y="257" width="1" height="8" fill="#4cb07a" />
<rect x="721" y="262" width="3" height="2" fill="#4cb07a" />
<rect x="726" y="254" width="1" height="10" fill="#e8485c" />
<rect x="725" y="256" width="3" height="7" fill="#e8485c" />
<rect x="730" y="246" width="1" height="11" fill="#e8485c" />
<rect x="729" y="254" width="3" height="2" fill="#e8485c" />
<rect x="734" y="253" width="1" height="2" fill="#e8485c" />
<rect x="733" y="253" width="3" height="2" fill="#e8485c" />
<rect x="738" y="246" width="1" height="12" fill="#e8485c" />
<rect x="737" y="249" width="3" height="4" fill="#e8485c" />
<rect x="742" y="234" width="1" height="18" fill="#4cb07a" />
<rect x="741" y="250" width="3" height="2" fill="#4cb07a" />
</g>
<line x1="76" y1="251.5" x2="805" y2="251.5" stroke="#1a82f0" stroke-width="1" stroke-dasharray="3,3" shape-rendering="crispEdges"/>
<path d="M78 58h4v1h-4zM82 59h9v1h-9zM91 60h9v1h-9zM100 61h12v1h-12zM112 62h12v1h-12zM124 63h12v1h-12zM136 64h10v1h-10zM146 65h11v1h-11zM157 66h10v1h-10zM167 67h8v1h-8zM175 68h8v1h-8zM183 69h8v1h-8zM191 70h8v1h-8zM199 71h7v1h-7zM206 72h7v1h-7zM213 73h7v1h-7zM220 74h6v1h-6zM226 75h7v1h-7zM233 76h8v1h-8zM241 77h7v1h-7zM248 78h5v1h-5zM253 79h4v1h-4zM257 80h4v1h-4zM261 81h4v1h-4zM265 82h4v1h-4zM269 83h4v1h-4zM273 84h4v1h-4zM277 85h5v1h-5zM282 86h4v1h-4zM286 87h5v1h-5zM291 88h4v1h-4zM295 89h5v1h-5zM300 90h4v1h-4zM304 91h5v1h-5zM309 92h4v1h-4zM313 93h5v1h-5zM318 94h4v1h-4zM322 95h4v1h-4zM326 96h5v1h-5zM331 97h4v1h-4zM335 98h4v1h-4zM339 99h4v1h-4zM343 100h3v1h-3zM346 101h3v1h-3zM349 102h3v1h-3zM352 103h2v1h-2zM354 104h3v1h-3zM357 105h3v1h-3zM360 106h2v1h-2zM362 107h3v1h-3zM365 108h3v1h-3zM368 109h3v1h-3zM371 110h2v1h-2zM373 111h3v1h-3zM376 112h3v1h-3zM379 113h3v1h-3zM382 114h3v1h-3zM385 115h3v1h-3zM388 116h3v1h-3zM391 117h3v1h-3zM394 118h3v1h-3zM397 119h3v1h-3zM400 120h3v1h-3zM403 121h3v1h-3zM406 122h3v1h-3zM409 123h3v1h-3zM412 124h3v1h-3zM415 125h2v1h-2zM417 126h3v1h-3zM420 127h2v1h-2zM422 128h3v1h-3zM425 129h2v1h-2zM427 130h3v1h-3zM430 131h2v1h-2zM432 132h3v1h-3zM435 133h2v1h-2zM437 134h3v1h-3zM440 135h2v1h-2zM442 136h3v1h-3zM445 137h2v1h-2zM447 138h2v1h-2zM449 139h3v1h-3zM452 140h2v1h-2zM454 141h2v1h-2zM456 142h3v1h-3zM459 143h2v1h-2zM461 144h2v1h-2zM463 145h3v1h-3zM466 146h2v1h-2zM468 147h2v1h-2zM470 148h3v1h-3zM473 149h2v1h-2zM475 150h2v1h-2zM477 151h3v1h-3zM480 152h2v1h-2zM482 153h2v1h-2zM484 154h3v1h-3zM487 155h2v1h-2zM489 156h2v1h-2zM491 157h3v1h-3zM494 158h2v1h-2zM496 159h3v1h-3zM499 160h2v1h-2zM501 161h2v1h-2zM503 162h3v1h-3zM506 163h2v1h-2zM508 164h2v1h-2zM510 165h3v1h-3zM513 166h2v1h-2zM515 167h3v1h-3zM518 168h3v1h-3zM521 169h2v1h-2zM523 170h3v1h-3zM526 171h3v1h-3zM529 172h3v1h-3zM532 173h2v1h-2zM534 174h3v1h-3zM537 175h3v1h-3zM540 176h3v1h-3zM543 177h2v1h-2zM545 178h3v1h-3zM548 179h3v1h-3zM551 180h3v1h-3zM554 181h3v1h-3zM557 182h3v1h-3zM560 183h3v1h-3zM563 184h3v1h-3zM566 185h3v1h-3zM569 186h3v1h-3zM572 187h3v1h-3zM575 188h4v1h-4zM579 189h3v1h-3zM582 190h3v1h-3zM585 191h2v1h-2zM587 192h3v1h-3zM590 193h3v1h-3zM593 194h3v1h-3zM596 195h2v1h-2zM598 196h3v1h-3zM601 197h3v1h-3zM604 198h2v1h-2zM606 199h3v1h-3zM609 200h4v1h-4zM613 201h3v1h-3zM616 202h3v1h-3zM619 203h4v1h-4zM623 204h4v1h-4zM627 205h4v1h-4zM631 206h4v1h-4zM635 207h3v1h-3zM638 208h4v1h-4zM642 209h4v1h-4zM646 210h3v1h-3zM649 211h3v1h-3zM652 212h3v1h-3zM655 213h3v1h-3zM658 214h3v1h-3zM661 215h4v1h-4zM665 216h3v1h-3zM668 217h4v1h-4zM672 218h3v1h-3zM675 219h4v1h-4zM679 220h5v1h-5zM684 221h5v1h-5zM689 222h5v1h-5zM694 223h5v1h-5zM699 224h5v1h-5zM704 225h4v1h-4zM708 226h5v1h-5zM713 227h4v1h-4zM717 228h5v1h-5zM722 229h4v1h-4zM726 230h4v1h-4zM730 231h4v1h-4zM734 232h4v1h-4zM738 233h4v1h-4zM742 234h1v1h-1z" fill="#f58634"/>
<path d="M78 45h1v1h-1zM79 46h2v1h-2zM81 47h1v1h-1zM82 48h2v1h-2zM84 49h1v1h-1zM85 50h2v1h-2zM87 51h2v1h-2zM89 52h1v1h-1zM90 53h1v1h-1zM91 54h2v1h-2zM93 55h1v1h-1zM94 56h1v1h-1zM95 57h2v1h-2zM97 58h1v1h-1zM98 59h1v1h-1zM99 60h2v1h-2zM101 61h1v1h-1zM102 62h1v1h-1zM103 63h1v1h-1zM104 64h1v1h-1zM105 65h1v1h-1zM106 66h2v1h-2zM108 67h1v1h-1zM109 68h1v1h-1zM110 69h1v1h-1zM111 70h1v1h-1zM112 71h1v1h-1zM113 72h1v1h-1zM114 73h1v1h-1zM115 74h1v1h-1zM116 75h2v1h-2zM118 76h1v1h-1zM119 77h1v1h-1zM120 78h1v1h-1zM121 79h1v1h-1zM122 80h2v1h-2zM124 81h1v1h-1zM125 82h1v1h-1zM126 83h1v1h-1zM127 84h2v1h-2zM129 85h1v1h-1zM130 86h1v1h-1zM131 87h1v1h-1zM132 88h2v1h-2zM134 89h1v1h-1zM135 90h1v1h-1zM136 91h2v1h-2zM138 92h1v1h-1zM139 93h2v1h-2zM141 94h1v1h-1zM142 95h2v1h-2zM144 96h1v1h-1zM145 97h1v1h-1zM146 98h2v1h-2zM148 99h1v1h-1zM149 100h2v1h-2zM151 101h1v1h-1zM152 102h1v1h-1zM153 103h2v1h-2zM155 104h1v1h-1zM156 105h1v1h-1zM157 106h2v1h-2zM159 107h1v1h-1zM160 108h1v1h-1zM161 109h2v1h-2zM163 110h1v1h-1zM164 111h1v1h-1zM165 112h1v1h-1zM166 113h2v1h-2zM168 114h1v1h-1zM169 115h2v1h-2zM171 116h1v1h-1zM172 117h1v1h-1zM173 118h2v1h-2zM175 119h1v1h-1zM176 120h1v1h-1zM177 121h2v1h-2zM179 122h1v1h-1zM180 123h1v1h-1zM181 124h2v1h-2zM183 125h1v1h-1zM184 126h1v1h-1zM185 127h1v1h-1zM186 128h1v1h-1zM187 129h1v1h-1zM188 130h1v1h-1zM189 131h1v1h-1zM190 132h2v1h-2zM192 133h1v1h-1zM193 134h1v1h-1zM194 135h1v1h-1zM195 136h1v1h-1zM196 137h1v1h-1zM197 138h1v1h-1zM198 139h1v1h-1zM199 140h1v1h-1zM200 141h2v1h-2zM202 142h1v1h-1zM203 143h1v1h-1zM204 144h1v1h-1zM205 145h1v1h-1zM206 146h1v1h-1zM207 147h1v1h-1zM208 148h1v1h-1zM209 149h1v1h-1zM210 150h2v1h-2zM212 151h1v1h-1zM213 152h1v1h-1zM214 153h1v1h-1zM215 154h1v1h-1zM216 155h1v1h-1zM217 156h2v1h-2zM219 157h1v1h-1zM220 158h1v1h-1zM221 159h1v1h-1zM222 160h2v1h-2zM224 161h1v1h-1zM225 162h1v1h-1zM226 163h1v1h-1zM227 164h2v1h-2zM229 165h1v1h-1zM230 166h1v1h-1zM231 167h2v1h-2zM233 168h2v1h-2zM235 169h2v1h-2zM237 170h1v1h-1zM238 171h2v1h-2zM240 172h2v1h-2zM242 173h2v1h-2zM244 174h1v1h-1zM245 175h2v1h-2zM247 176h1v1h-1zM248 177h1v1h-1zM249 178h2v1h-2zM251 179h1v1h-1zM252 180h2v1h-2zM254 181h1v1h-1zM255 182h1v1h-1zM256 183h2v1h-2zM258 184h1v1h-1zM259 185h1v1h-1zM260 186h2v1h-2zM262 187h2v1h-2zM264 188h1v1h-1zM265 189h2v1h-2zM267 190h2v1h-2zM269 191h2v1h-2zM271 192h1v1h-1zM272 193h2v1h-2zM274 194h2v1h-2zM276 195h2v1h-2zM278 196h1v1h-1zM279 197h2v1h-2zM281 198h2v1h-2zM283 199h3v1h-3zM286 200h2v1h-2zM288 201h3v1h-3zM291 202h2v1h-2zM293 203h3v1h-3zM296 204h3v1h-3zM299 205h2v1h-2zM301 206h3v1h-3zM304 207h2v1h-2zM306 208h2v1h-2zM308 209h3v1h-3zM311 210h2v1h-2zM313 211h2v1h-2zM315 212h2v1h-2zM317 213h2v1h-2zM319 214h3v1h-3zM322 215h2v1h-2zM324 216h2v1h-2zM326 217h2v1h-2zM328 218h2v1h-2zM330 219h2v1h-2zM332 220h2v1h-2zM334 221h2v1h-2zM336 222h2v1h-2zM338 223h2v1h-2zM340 224h2v1h-2zM342 225h2v1h-2zM344 226h2v1h-2zM346 227h3v1h-3zM349 228h3v1h-3zM352 229h3v1h-3zM355 230h3v1h-3zM358 231h3v1h-3zM361 232h2v1h-2zM363 233h3v1h-3zM366 234h2v1h-2zM368 235h2v1h-2zM370 236h4v1h-4zM374 237h5v1h-5zM379 238h5v1h-5zM384 239h5v1h-5zM389 240h6v1h-6zM395 241h10v1h-10zM405 242h10v1h-10zM415 243h7v1h-7zM422 244h7v1h-7zM429 245h6v1h-6zM435 246h6v1h-6zM441 247h5v1h-5zM446 248h5v1h-5zM451 249h5v1h-5zM456 250h3v1h-3zM459 251h3v1h-3zM462 252h3v1h-3zM465 253h3v1h-3zM468 254h4v1h-4zM472 255h5v1h-5zM477 256h6v1h-6zM483 257h13v1h-13zM496 258h25v1h-25zM521 259h7v1h-7zM528 258h23v1h-23zM551 257h11v1h-11zM562 256h10v1h-10zM572 255h9v1h-9zM581 254h7v1h-7zM588 253h5v1h-5zM593 252h5v1h-5zM598 251h5v1h-5zM603 250h4v1h-4zM607 249h4v1h-4zM611 248h5v1h-5zM616 247h6v1h-6zM622 246h6v1h-6zM628 245h6v1h-6zM634 244h22v1h-22zM656 243h6v1h-6zM662 242h7v1h-7zM669 241h15v1h-15zM684 242h16v1h-16zM700 243h43v1h-43z" fill="#29abe2"/>
<path d="M78 143h1v1h-1zM79 144h1v1h-1zM80 145h2v1h-2zM82 146h1v1h-1zM83 147h2v1h-2zM85 148h2v1h-2zM87 149h1v1h-1zM88 150h2v1h-2zM90 151h1v1h-1zM91 152h2v1h-2zM93 153h2v1h-2zM95 154h1v1h-1zM96 155h2v1h-2zM98 156h1v1h-1zM99 157h2v1h-2zM101 158h1v1h-1zM102 159h2v1h-2zM104 160h1v1h-1zM105 161h2v1h-2zM107 162h1v1h-1zM108 163h2v1h-2zM110 164h1v1h-1zM111 165h2v1h-2zM113 166h1v1h-1zM114 167h1v1h-1zM115 168h2v1h-2zM117 169h1v1h-1zM118 170h1v1h-1zM119 171h2v1h-2zM121 172h1v1h-1zM122 173h1v1h-1zM123 174h1v1h-1zM124 175h1v1h-1zM125 176h1v1h-1zM126 177h1v1h-1zM127 178h1v1h-1zM128 179h1v1h-1zM129 180h1v1h-1zM130 181h2v1h-2zM132 182h1v1h-1zM133 183h1v1h-1zM134 184h1v1h-1zM135 185h1v1h-1zM136 186h1v1h-1zM137 187h2v1h-2zM139 188h1v1h-1zM140 189h1v1h-1zM141 190h1v1h-1zM142 191h2v1h-2zM144 192h1v1h-1zM145 193h1v1h-1zM146 194h1v1h-1zM147 195h2v1h-2zM149 196h1v1h-1zM150 197h1v1h-1zM151 198h2v1h-2zM153 199h1v1h-1zM154 200h1v1h-1zM155 201h2v1h-2zM157 202h1v1h-1zM158 203h2v1h-2zM160 204h1v1h-1zM161 205h1v1h-1zM162 206h2v1h-2zM164 207h1v1h-1zM165 208h1v1h-1zM166 209h1v1h-1zM167 210h2v1h-2zM169 211h1v1h-1zM170 212h4v1h-4zM174 213h4v1h-4zM178 214h4v1h-4zM182 215h3v1h-3zM185 216h3v1h-3zM188 217h3v1h-3zM191 218h3v1h-3zM194 219h4v1h-4zM198 220h4v1h-4zM202 221h4v1h-4zM206 222h4v1h-4zM210 223h5v1h-5zM215 224h3v1h-3zM218 225h2v1h-2zM220 226h3v1h-3zM223 227h3v1h-3zM226 228h2v1h-2zM228 229h3v1h-3zM231 230h3v1h-3zM234 231h1v1h-1zM235 232h2v1h-2zM237 233h2v1h-2zM239 234h4v1h-4zM243 235h5v1h-5zM248 236h5v1h-5zM253 237h3v1h-3zM256 238h2v1h-2zM258 239h2v1h-2zM260 240h2v1h-2zM262 241h2v1h-2zM264 242h1v1h-1zM265 243h2v1h-2zM267 244h1v1h-1zM268 245h2v1h-2zM270 246h1v1h-1zM271 247h2v1h-2zM273 248h3v1h-3zM276 249h2v1h-2zM278 250h3v1h-3zM281 251h3v1h-3zM284 252h5v1h-5zM289 253h10v1h-10zM299 252h7v1h-7zM306 253h7v1h-7zM313 254h2v1h-2zM315 255h2v1h-2zM317 256h7v1h-7zM324 257h8v1h-8zM332 258h6v1h-6zM338 259h10v1h-10zM348 260h17v1h-17zM365 259h5v1h-5zM370 258h5v1h-5zM375 257h2v1h-2zM377 258h7v1h-7zM384 259h7v1h-7zM391 260h9v1h-9zM400 261h3v1h-3zM403 260h6v1h-6zM409 259h5v1h-5zM414 258h6v1h-6zM420 257h1v1h-1zM421 258h7v1h-7zM428 259h7v1h-7zM435 260h7v1h-7zM442 261h43v1h-43zM485 262h21v1h-21zM506 261h12v1h-12zM518 260h13v1h-13zM531 259h17v1h-17zM548 258h3v1h-3zM551 257h4v1h-4zM555 256h3v1h-3zM558 255h3v1h-3zM561 254h3v1h-3zM564 253h3v1h-3zM567 252h3v1h-3zM570 251h4v1h-4zM574 250h4v1h-4zM578 249h4v1h-4zM582 248h5v1h-5zM587 247h5v1h-5zM592 246h4v1h-4zM596 245h3v1h-3zM599 244h6v1h-6zM605 243h3v1h-3zM608 242h2v1h-2zM610 241h2v1h-2zM612 240h2v1h-2zM614 239h2v1h-2zM616 238h2v1h-2zM618 237h2v1h-2zM620 236h2v1h-2zM622 235h3v1h-3zM625 234h2v1h-2zM627 233h2v1h-2zM629 232h2v1h-2zM631 231h3v1h-3zM634 230h3v1h-3zM637 229h3v1h-3zM640 228h2v1h-2zM642 227h4v1h-4zM646 226h4v1h-4zM650 225h5v1h-5zM655 224h6v1h-6zM661 223h8v1h-8zM669 222h18v1h-18zM687 221h4v1h-4zM691 222h6v1h-6zM697 223h6v1h-6zM703 224h8v1h-8zM711 225h8v1h-8zM719 226h9v1h-9zM728 227h11v1h-11zM739 228h4v1h-4z" fill="#2dbb77"/>
<path d="M78 197h1v2h-1zM79 196h1v1h-1zM80 195h1v1h-1zM81 194h1v1h-1zM82 193h36v1h-36zM118 194h4v1h-4zM122 195h6v1h-6zM128 196h1v1h-1zM129 197h1v1h-1zM130 198h2v1h-2zM132 199h1v1h-1zM133 200h1v1h-1zM134 201h1v1h-1zM135 202h2v1h-2zM137 203h1v1h-1zM138 204h1v1h-1zM139 205h2v1h-2zM141 206h1v1h-1zM142 207h2v1h-2zM144 208h1v1h-1zM145 209h1v1h-1zM146 210h1v1h-1zM147 211h1v1h-1zM148 212h2v1h-2zM150 213h1v1h-1zM151 214h1v2h-1zM152 216h1v1h-1zM153 217h1v1h-1zM154 218h1v1h-1zM155 219h1v1h-1zM156 220h1v1h-1zM157 221h1v1h-1zM158 222h1v1h-1zM159 223h1v1h-1zM160 224h1v1h-1zM161 225h1v1h-1zM162 226h2v1h-2zM164 227h1v1h-1zM165 228h2v1h-2zM167 229h2v1h-2zM169 230h2v1h-2zM171 231h2v1h-2zM173 232h5v1h-5zM178 233h5v1h-5zM183 234h1v1h-1zM184 235h1v1h-1zM185 236h1v1h-1zM186 237h2v1h-2zM188 238h1v1h-1zM189 239h1v1h-1zM190 240h1v1h-1zM191 241h2v1h-2zM193 242h1v1h-1zM194 243h1v1h-1zM195 244h1v1h-1zM196 245h1v1h-1zM197 246h2v1h-2zM199 247h1v1h-1zM200 248h1v1h-1zM201 249h1v1h-1zM202 250h1v1h-1zM203 251h1v1h-1zM204 252h1v1h-1zM205 253h1v1h-1zM206 254h1v1h-1zM207 255h1v1h-1zM208 256h1v1h-1zM209 257h1v1h-1zM210 258h1v1h-1zM211 259h1v1h-1zM212 260h1v1h-1zM213 261h2v1h-2zM215 262h1v1h-1zM216 263h1v1h-1zM217 264h2v1h-2zM219 265h1v1h-1zM220 266h1v1h-1zM221 267h2v1h-2zM223 268h2v1h-2zM225 269h2v1h-2zM227 270h2v1h-2zM229 271h16v1h-16zM245 272h7v1h-7zM252 273h4v1h-4zM256 274h5v1h-5zM261 275h4v1h-4zM265 276h9v1h-9zM274 275h4v1h-4zM278 274h1v1h-1zM279 273h1v1h-1zM280 272h1v1h-1zM281 271h1v1h-1zM282 270h1v1h-1zM283 269h1v1h-1zM284 268h1v1h-1zM285 267h1v1h-1zM286 266h1v1h-1zM287 265h1v1h-1zM288 264h1v1h-1zM289 263h1v1h-1zM290 261h1v2h-1zM291 260h1v1h-1zM292 259h1v1h-1zM293 258h1v1h-1zM294 257h2v1h-2zM296 256h1v1h-1zM297 255h2v1h-2zM299 254h1v1h-1zM300 253h2v1h-2zM302 252h3v1h-3zM305 251h3v1h-3zM308 250h4v1h-4zM312 249h11v1h-11zM323 250h9v1h-9zM332 251h9v1h-9zM341 250h3v1h-3zM344 249h3v1h-3zM347 248h3v1h-3zM350 247h13v1h-13zM363 248h4v1h-4zM367 249h2v1h-2zM369 250h1v1h-1zM370 251h2v1h-2zM372 252h1v1h-1zM373 253h2v1h-2zM375 254h1v1h-1zM376 255h2v1h-2zM378 256h2v1h-2zM380 257h2v1h-2zM382 258h13v1h-13zM395 259h4v1h-4zM399 260h5v1h-5zM404 261h4v1h-4zM408 262h5v1h-5zM413 263h3v1h-3zM416 264h3v1h-3zM419 265h3v1h-3zM422 266h2v1h-2zM424 267h3v1h-3zM427 268h2v1h-2zM429 269h3v1h-3zM432 270h2v1h-2zM434 271h3v1h-3zM437 272h2v1h-2zM439 273h3v1h-3zM442 274h2v1h-2zM444 275h3v1h-3zM447 274h10v1h-10zM457 273h8v1h-8zM465 274h5v1h-5zM470 275h10v1h-10zM480 274h4v1h-4zM484 273h3v1h-3zM487 272h1v1h-1zM488 271h1v1h-1zM489 270h2v1h-2zM491 269h1v1h-1zM492 268h2v1h-2zM494 267h2v1h-2zM496 266h2v1h-2zM498 265h1v1h-1zM499 264h2v1h-2zM501 263h2v1h-2zM503 262h2v1h-2zM505 261h1v1h-1zM506 260h2v1h-2zM508 259h1v1h-1zM509 258h2v1h-2zM511 257h1v1h-1zM512 256h2v1h-2zM514 255h1v1h-1zM515 254h2v1h-2zM517 253h2v1h-2zM519 252h1v1h-1zM520 251h2v1h-2zM522 250h2v1h-2zM524 249h2v1h-2zM526 248h3v1h-3zM529 247h3v1h-3zM532 246h3v1h-3zM535 245h3v1h-3zM538 244h4v1h-4zM542 243h3v1h-3zM545 242h2v1h-2zM547 241h2v1h-2zM549 240h1v1h-1zM550 239h2v1h-2zM552 238h1v1h-1zM553 237h2v1h-2zM555 236h1v1h-1zM556 235h1v1h-1zM557 234h1v1h-1zM558 233h1v1h-1zM559 232h1v1h-1zM560 231h1v1h-1zM561 230h1v1h-1zM562 229h1v1h-1zM563 228h3v1h-3zM566 227h2v1h-2zM568 226h3v1h-3zM571 225h5v1h-5zM576 224h7v1h-7zM583 223h4v1h-4zM587 222h3v1h-3zM590 221h4v1h-4zM594 220h3v1h-3zM597 219h2v1h-2zM599 218h2v1h-2zM601 217h2v1h-2zM603 216h2v1h-2zM605 215h2v1h-2zM607 214h2v1h-2zM609 213h2v1h-2zM611 212h2v1h-2zM613 211h2v1h-2zM615 210h2v1h-2zM617 209h2v1h-2zM619 208h3v1h-3zM622 207h2v1h-2zM624 206h2v1h-2zM626 205h14v1h-14zM640 206h4v1h-4zM644 207h2v1h-2zM646 208h2v1h-2zM648 209h3v1h-3zM651 210h2v1h-2zM653 211h7v1h-7zM660 212h7v1h-7zM667 213h3v1h-3zM670 214h4v1h-4zM674 215h3v1h-3zM677 216h2v1h-2zM679 217h2v1h-2zM681 218h1v1h-1zM682 219h2v1h-2zM684 220h1v1h-1zM685 221h2v1h-2zM687 222h1v1h-1zM688 223h2v1h-2zM690 224h1v1h-1zM691 225h1v1h-1zM692 226h2v1h-2zM694 227h1v1h-1zM695 228h1v1h-1zM696 229h2v1h-2zM698 230h1v1h-1zM699 231h2v1h-2zM701 232h1v1h-1zM702 233h1v1h-1zM703 234h2v1h-2zM705 235h2v1h-2zM707 236h1v1h-1zM708 237h2v1h-2zM710 238h2v1h-2zM712 239h1v1h-1zM713 240h2v1h-2zM715 241h2v1h-2zM717 242h1v1h-1zM718 243h2v1h-2zM720 244h2v1h-2zM722 245h1v1h-1zM723 246h2v1h-2zM725 247h2v1h-2zM727 248h2v1h-2zM729 249h2v1h-2zM731 250h4v1h-4zM735 251h5v1h-5zM740 252h3v1h-3z" fill="#2b8cf7"/>
<rect x="296" y="189" width="7" height="1" fill="#000" />
<rect x="298" y="187" width="1" height="5" fill="#000" />
<text x="304" y="185.8" fill="#e8485c" font-size="12" text-anchor="start" font-weight="bold" >100.2599</text>
<rect x="616" y="185" width="7" height="1" fill="#000" />
<rect x="618" y="183" width="1" height="5" fill="#000" />
<text x="624.3" y="181.8" fill="#e8485c" font-size="12" text-anchor="start" font-weight="bold" >100.3900</text>
<rect x="204" y="315" width="7" height="1" fill="#000" />
<rect x="206" y="313" width="1" height="5" fill="#000" />
<text x="212.6" y="326.8" fill="#5cb894" font-size="12" text-anchor="start" font-weight="bold" >96.3729</text>
<rect x="708" y="271" width="7" height="1" fill="#000" />
<rect x="710" y="269" width="1" height="5" fill="#000" />
<text x="716" y="282.6" fill="#5cb894" font-size="12" text-anchor="start" font-weight="bold" >97.7479</text>
<rect x="428" y="321" width="3" height="1" fill="#000" />
<line x1="430.5" y1="320" x2="434.6" y2="327.8" stroke="#000" stroke-width="1.2"/>
<text x="435.8" y="339.6" fill="#3cb88a" font-size="12" text-anchor="start" font-weight="bold" >96.2109</text>
<g shape-rendering="crispEdges">
<rect x="78" y="474" width="1" height="24" fill="#e8485c" />
<rect x="82" y="480" width="1" height="18" fill="#e8485c" />
<rect x="86" y="485" width="1" height="13" fill="#e8485c" />
<rect x="90" y="491" width="1" height="7" fill="#e8485c" />
<rect x="94" y="493" width="1" height="5" fill="#e8485c" />
<rect x="98" y="497" width="1" height="2" fill="#4cb07a" />
<rect x="102" y="497" width="1" height="5" fill="#4cb07a" />
<rect x="106" y="497" width="1" height="5" fill="#4cb07a" />
<rect x="110" y="497" width="1" height="3" fill="#4cb07a" />
<rect x="114" y="497" width="1" height="2" fill="#4cb07a" />
<rect x="118" y="497" width="1" height="3" fill="#4cb07a" />
<rect x="122" y="497" width="1" height="4" fill="#4cb07a" />
<rect x="126" y="497" width="1" height="4" fill="#4cb07a" />
<rect x="130" y="497" width="1" height="5" fill="#4cb07a" />
<rect x="134" y="497" width="1" height="5" fill="#4cb07a" />
<rect x="138" y="497" width="1" height="3" fill="#4cb07a" />
<rect x="142" y="497" width="1" height="2" fill="#4cb07a" />
<rect x="146" y="497" width="1" height="2" fill="#4cb07a" />
<rect x="150" y="497" width="1" height="2" fill="#4cb07a" />
<rect x="154" y="497" width="1" height="6" fill="#4cb07a" />
<rect x="158" y="497" width="1" height="6" fill="#4cb07a" />
<rect x="162" y="497" width="1" height="5" fill="#4cb07a" />
<rect x="166" y="497" width="1" height="2" fill="#4cb07a" />
<rect x="170" y="495" width="1" height="3" fill="#e8485c" />
<rect x="174" y="493" width="1" height="5" fill="#e8485c" />
<rect x="178" y="492" width="1" height="6" fill="#e8485c" />
<rect x="182" y="493" width="1" height="5" fill="#e8485c" />
<rect x="186" y="495" width="1" height="3" fill="#e8485c" />
<rect x="190" y="497" width="1" height="2" fill="#4cb07a" />
<rect x="194" y="497" width="1" height="5" fill="#4cb07a" />
<rect x="198" y="497" width="1" height="7" fill="#4cb07a" />
<rect x="202" y="497" width="1" height="9" fill="#4cb07a" />
<rect x="206" y="497" width="1" height="11" fill="#4cb07a" />
<rect x="210" y="497" width="1" height="11" fill="#4cb07a" />
<rect x="214" y="497" width="1" height="8" fill="#4cb07a" />
<rect x="218" y="497" width="1" height="6" fill="#4cb07a" />
<rect x="222" y="497" width="1" height="1" fill="#4cb07a" />
<rect x="226" y="495" width="1" height="3" fill="#e8485c" />
<rect x="230" y="492" width="1" height="6" fill="#e8485c" />
<rect x="234" y="490" width="1" height="8" fill="#e8485c" />
<rect x="238" y="487" width="1" height="11" fill="#e8485c" />
<rect x="242" y="485" width="1" height="13" fill="#e8485c" />
<rect x="246" y="481" width="1" height="17" fill="#e8485c" />
<rect x="250" y="481" width="1" height="17" fill="#e8485c" />
<rect x="254" y="479" width="1" height="19" fill="#e8485c" />
<rect x="258" y="480" width="1" height="18" fill="#e8485c" />
<rect x="262" y="484" width="1" height="14" fill="#e8485c" />
<rect x="266" y="491" width="1" height="7" fill="#e8485c" />
<rect x="270" y="494" width="1" height="4" fill="#e8485c" />
<rect x="274" y="495" width="1" height="3" fill="#e8485c" />
<rect x="278" y="495" width="1" height="3" fill="#e8485c" />
<rect x="282" y="490" width="1" height="8" fill="#e8485c" />
<rect x="286" y="486" width="1" height="12" fill="#e8485c" />
<rect x="290" y="479" width="1" height="19" fill="#e8485c" />
<rect x="294" y="475" width="1" height="23" fill="#e8485c" />
<rect x="298" y="480" width="1" height="18" fill="#e8485c" />
<rect x="302" y="484" width="1" height="14" fill="#e8485c" />
<rect x="306" y="487" width="1" height="11" fill="#e8485c" />
<rect x="310" y="490" width="1" height="8" fill="#e8485c" />
<rect x="314" y="497" width="1" height="1" fill="#4cb07a" />
<rect x="318" y="497" width="1" height="3" fill="#4cb07a" />
<rect x="322" y="497" width="1" height="3" fill="#4cb07a" />
<rect x="326" y="497" width="1" height="5" fill="#4cb07a" />
<rect x="330" y="497" width="1" height="7" fill="#4cb07a" />
<rect x="334" y="497" width="1" height="6" fill="#4cb07a" />
<rect x="338" y="497" width="1" height="7" fill="#4cb07a" />
<rect x="342" y="497" width="1" height="6" fill="#4cb07a" />
<rect x="346" y="497" width="1" height="5" fill="#4cb07a" />
<rect x="350" y="497" width="1" height="4" fill="#4cb07a" />
<rect x="354" y="497" width="1" height="1" fill="#4cb07a" />
<rect x="358" y="497" width="1" height="4" fill="#4cb07a" />
<rect x="362" y="497" width="1" height="2" fill="#4cb07a" />
<rect x="366" y="497" width="1" height="1" fill="#4cb07a" />
<rect x="370" y="497" width="1" height="1" fill="#4cb07a" />
<rect x="374" y="497" width="1" height="2" fill="#4cb07a" />
<rect x="378" y="497" width="1" height="4" fill="#4cb07a" />
<rect x="382" y="497" width="1" height="4" fill="#4cb07a" />
<rect x="386" y="497" width="1" height="2" fill="#4cb07a" />
<rect x="390" y="497" width="1" height="2" fill="#4cb07a" />
<rect x="394" y="496" width="1" height="2" fill="#e8485c" />
<rect x="398" y="497" width="1" height="3" fill="#4cb07a" />
<rect x="402" y="497" width="1" height="4" fill="#4cb07a" />
<rect x="406" y="497" width="1" height="4" fill="#4cb07a" />
<rect x="410" y="497" width="1" height="4" fill="#4cb07a" />
<rect x="414" y="497" width="1" height="4" fill="#4cb07a" />
<rect x="418" y="497" width="1" height="4" fill="#4cb07a" />
<rect x="422" y="497" width="1" height="5" fill="#4cb07a" />
<rect x="426" y="497" width="1" height="7" fill="#4cb07a" />
<rect x="430" y="497" width="1" height="9" fill="#4cb07a" />
<rect x="434" y="497" width="1" height="6" fill="#4cb07a" />
<rect x="438" y="497" width="1" height="3" fill="#4cb07a" />
<rect x="442" y="497" width="1" height="2" fill="#4cb07a" />
<rect x="446" y="497" width="1" height="2" fill="#4cb07a" />
<rect x="450" y="495" width="1" height="3" fill="#e8485c" />
<rect x="454" y="491" width="1" height="7" fill="#e8485c" />
<rect x="458" y="488" width="1" height="10" fill="#e8485c" />
<rect x="462" y="489" width="1" height="9" fill="#e8485c" />
<rect x="466" y="491" width="1" height="7" fill="#e8485c" />
<rect x="470" y="491" width="1" height="7" fill="#e8485c" />
<rect x="474" y="492" width="1" height="6" fill="#e8485c" />
<rect x="478" y="493" width="1" height="5" fill="#e8485c" />
<rect x="482" y="491" width="1" height="7" fill="#e8485c" />
<rect x="486" y="489" width="1" height="9" fill="#e8485c" />
<rect x="490" y="486" width="1" height="12" fill="#e8485c" />
<rect x="494" y="483" width="1" height="15" fill="#e8485c" />
<rect x="498" y="484" width="1" height="14" fill="#e8485c" />
<rect x="502" y="484" width="1" height="14" fill="#e8485c" />
<rect x="506" y="485" width="1" height="13" fill="#e8485c" />
<rect x="510" y="488" width="1" height="10" fill="#e8485c" />
<rect x="514" y="493" width="1" height="5" fill="#e8485c" />
<rect x="518" y="495" width="1" height="3" fill="#e8485c" />
<rect x="522" y="496" width="1" height="2" fill="#e8485c" />
<rect x="526" y="495" width="1" height="3" fill="#e8485c" />
<rect x="530" y="495" width="1" height="3" fill="#e8485c" />
<rect x="534" y="496" width="1" height="2" fill="#e8485c" />
<rect x="538" y="496" width="1" height="2" fill="#e8485c" />
<rect x="542" y="497" width="1" height="1" fill="#4cb07a" />
<rect x="546" y="497" width="1" height="2" fill="#4cb07a" />
<rect x="550" y="497" width="1" height="1" fill="#4cb07a" />
<rect x="554" y="494" width="1" height="4" fill="#e8485c" />
<rect x="558" y="492" width="1" height="6" fill="#e8485c" />
<rect x="562" y="491" width="1" height="7" fill="#e8485c" />
<rect x="566" y="488" width="1" height="10" fill="#e8485c" />
<rect x="570" y="488" width="1" height="10" fill="#e8485c" />
<rect x="574" y="491" width="1" height="7" fill="#e8485c" />
<rect x="578" y="493" width="1" height="5" fill="#e8485c" />
<rect x="582" y="495" width="1" height="3" fill="#e8485c" />
<rect x="586" y="497" width="1" height="1" fill="#4cb07a" />
<rect x="590" y="497" width="1" height="3" fill="#4cb07a" />
<rect x="594" y="497" width="1" height="6" fill="#4cb07a" />
<rect x="598" y="497" width="1" height="7" fill="#4cb07a" />
<rect x="602" y="497" width="1" height="6" fill="#4cb07a" />
<rect x="606" y="497" width="1" height="5" fill="#4cb07a" />
<rect x="610" y="497" width="1" height="2" fill="#4cb07a" />
<rect x="614" y="496" width="1" height="2" fill="#e8485c" />
<rect x="618" y="495" width="1" height="3" fill="#e8485c" />
<rect x="622" y="495" width="1" height="3" fill="#e8485c" />
<rect x="626" y="496" width="1" height="2" fill="#e8485c" />
<rect x="630" y="497" width="1" height="3" fill="#4cb07a" />
<rect x="634" y="497" width="1" height="5" fill="#4cb07a" />
<rect x="638" y="497" width="1" height="6" fill="#4cb07a" />
<rect x="642" y="497" width="1" height="7" fill="#4cb07a" />
<rect x="646" y="497" width="1" height="8" fill="#4cb07a" />
<rect x="650" y="497" width="1" height="11" fill="#4cb07a" />
<rect x="654" y="497" width="1" height="11" fill="#4cb07a" />
<rect x="658" y="497" width="1" height="11" fill="#4cb07a" />
<rect x="662" y="497" width="1" height="10" fill="#4cb07a" />
<rect x="666" y="497" width="1" height="8" fill="#4cb07a" />
<rect x="670" y="497" width="1" height="10" fill="#4cb07a" />
<rect x="674" y="497" width="1" height="12" fill="#4cb07a" />
<rect x="678" y="497" width="1" height="12" fill="#4cb07a" />
<rect x="682" y="497" width="1" height="12" fill="#4cb07a" />
<rect x="686" y="497" width="1" height="11" fill="#4cb07a" />
<rect x="690" y="497" width="1" height="10" fill="#4cb07a" />
<rect x="694" y="497" width="1" height="7" fill="#4cb07a" />
<rect x="698" y="497" width="1" height="6" fill="#4cb07a" />
<rect x="702" y="497" width="1" height="6" fill="#4cb07a" />
<rect x="706" y="497" width="1" height="6" fill="#4cb07a" />
<rect x="710" y="497" width="1" height="5" fill="#4cb07a" />
<rect x="714" y="497" width="1" height="5" fill="#4cb07a" />
<rect x="718" y="497" width="1" height="4" fill="#4cb07a" />
<rect x="722" y="497" width="1" height="3" fill="#4cb07a" />
<rect x="726" y="497" width="1" height="1" fill="#4cb07a" />
<rect x="730" y="496" width="1" height="2" fill="#e8485c" />
<rect x="734" y="495" width="1" height="3" fill="#e8485c" />
<rect x="738" y="493" width="1" height="5" fill="#e8485c" />
<rect x="742" y="493" width="1" height="5" fill="#e8485c" />
</g>
<path d="M78 512h1v1h-1zM79 511h2v1h-2zM81 510h2v1h-2zM83 509h3v1h-3zM86 508h23v1h-23zM109 509h14v1h-14zM123 510h4v1h-4zM127 511h6v1h-6zM133 512h19v1h-19zM152 513h3v1h-3zM155 514h15v1h-15zM170 513h26v1h-26zM196 514h3v1h-3zM199 515h3v1h-3zM202 516h3v1h-3zM205 517h3v1h-3zM208 518h4v1h-4zM212 519h17v1h-17zM229 518h6v1h-6zM235 517h3v1h-3zM238 516h2v1h-2zM240 515h2v1h-2zM242 514h2v1h-2zM244 513h2v1h-2zM246 512h2v1h-2zM248 511h2v1h-2zM250 510h2v1h-2zM252 509h2v1h-2zM254 508h2v1h-2zM256 507h3v1h-3zM259 506h2v1h-2zM261 505h2v1h-2zM263 504h7v1h-7zM270 503h11v1h-11zM281 502h2v1h-2zM283 501h3v1h-3zM286 500h2v1h-2zM288 499h2v1h-2zM290 498h2v1h-2zM292 497h3v1h-3zM295 496h2v1h-2zM297 495h2v1h-2zM299 494h3v1h-3zM302 493h2v1h-2zM304 492h2v1h-2zM306 491h16v1h-16zM322 492h6v1h-6zM328 493h4v1h-4zM332 494h3v1h-3zM335 495h9v1h-9zM344 496h13v1h-13zM357 497h16v1h-16zM373 498h14v1h-14zM387 499h23v1h-23zM410 500h9v1h-9zM419 501h3v1h-3zM422 502h3v1h-3zM425 503h6v1h-6zM431 504h20v1h-20zM451 503h4v1h-4zM455 502h4v1h-4zM459 501h4v1h-4zM463 500h10v1h-10zM473 499h8v1h-8zM481 498h3v1h-3zM484 497h3v1h-3zM487 496h3v1h-3zM490 495h3v1h-3zM493 494h3v1h-3zM496 493h3v1h-3zM499 492h3v1h-3zM502 491h3v1h-3zM505 490h4v1h-4zM509 489h4v1h-4zM513 488h8v1h-8zM521 487h5v1h-5zM526 488h22v1h-22zM548 487h9v1h-9zM557 486h6v1h-6zM563 485h4v1h-4zM567 484h4v1h-4zM571 483h19v1h-19zM590 484h6v1h-6zM596 485h6v1h-6zM602 486h15v1h-15zM617 485h16v1h-16zM633 486h6v1h-6zM639 487h4v1h-4zM643 488h4v1h-4zM647 489h4v1h-4zM651 490h3v1h-3zM654 491h3v1h-3zM657 492h3v1h-3zM660 493h3v1h-3zM663 494h3v1h-3zM666 495h4v1h-4zM670 496h3v1h-3zM673 497h3v1h-3zM676 498h4v1h-4zM680 499h3v1h-3zM683 500h3v1h-3zM686 501h2v1h-2zM688 502h3v1h-3zM691 503h6v1h-6zM697 504h6v1h-6zM703 505h4v1h-4zM707 506h5v1h-5zM712 507h5v1h-5zM717 508h17v1h-17zM734 507h7v1h-7zM741 506h2v1h-2z" fill="#2dbb77"/>
<path d="M78 501h3v1h-3zM81 502h5v1h-5zM86 503h2v1h-2zM88 504h3v1h-3zM91 505h3v1h-3zM94 506h1v1h-1zM95 507h2v1h-2zM97 508h2v1h-2zM99 509h2v1h-2zM101 510h2v1h-2zM103 511h2v1h-2zM105 510h5v1h-5zM110 509h10v1h-10zM120 510h3v1h-3zM123 511h2v1h-2zM125 512h3v1h-3zM128 513h4v1h-4zM132 514h5v1h-5zM137 513h5v1h-5zM142 512h9v1h-9zM151 513h2v1h-2zM153 514h3v1h-3zM156 515h3v1h-3zM159 516h5v1h-5zM164 515h3v1h-3zM167 514h3v1h-3zM170 513h2v1h-2zM172 512h4v1h-4zM176 511h9v1h-9zM185 512h3v1h-3zM188 513h2v1h-2zM190 514h2v1h-2zM192 515h2v1h-2zM194 516h2v1h-2zM196 517h2v1h-2zM198 518h1v1h-1zM199 519h2v1h-2zM201 520h3v1h-3zM204 521h3v1h-3zM207 522h11v1h-11zM218 521h2v1h-2zM220 520h2v1h-2zM222 519h2v1h-2zM224 518h2v1h-2zM226 517h2v1h-2zM228 516h2v1h-2zM230 515h2v1h-2zM232 514h2v1h-2zM234 513h2v1h-2zM236 512h2v1h-2zM238 511h1v1h-1zM239 510h2v1h-2zM241 509h1v1h-1zM242 508h2v1h-2zM244 507h1v1h-1zM245 506h1v1h-1zM246 505h2v1h-2zM248 504h1v1h-1zM249 503h2v1h-2zM251 502h1v1h-1zM252 501h2v1h-2zM254 500h2v1h-2zM256 499h1v1h-1zM257 498h4v1h-4zM261 499h3v1h-3zM264 500h2v1h-2zM266 501h2v1h-2zM268 502h2v1h-2zM270 503h10v1h-10zM280 502h1v1h-1zM281 501h1v1h-1zM282 500h1v1h-1zM283 499h1v1h-1zM284 498h1v1h-1zM285 497h1v1h-1zM286 496h1v1h-1zM287 495h1v1h-1zM288 493h1v2h-1zM289 492h1v1h-1zM290 491h1v1h-1zM291 490h1v1h-1zM292 489h1v1h-1zM293 487h1v2h-1zM294 486h6v1h-6zM300 487h8v1h-8zM308 488h2v1h-2zM310 489h2v1h-2zM312 490h2v1h-2zM314 491h3v1h-3zM317 492h4v1h-4zM321 493h3v1h-3zM324 494h3v1h-3zM327 495h4v1h-4zM331 496h3v1h-3zM334 497h3v1h-3zM337 498h3v1h-3zM340 497h22v1h-22zM362 498h10v1h-10zM372 499h23v1h-23zM395 500h8v1h-8zM403 501h12v1h-12zM415 502h5v1h-5zM420 503h2v1h-2zM422 504h2v1h-2zM424 505h2v1h-2zM426 506h3v1h-3zM429 507h9v1h-9zM438 506h6v1h-6zM444 505h3v1h-3zM447 504h1v1h-1zM448 503h2v1h-2zM450 502h1v1h-1zM451 501h2v1h-2zM453 500h4v1h-4zM457 499h3v1h-3zM460 498h3v1h-3zM463 497h18v1h-18zM481 496h1v1h-1zM482 495h2v1h-2zM484 494h2v1h-2zM486 493h1v1h-1zM487 492h2v1h-2zM489 491h2v1h-2zM491 490h1v1h-1zM492 489h2v1h-2zM494 488h2v1h-2zM496 487h2v1h-2zM498 486h2v1h-2zM500 485h3v1h-3zM503 484h7v1h-7zM510 485h2v1h-2zM512 486h3v1h-3zM515 487h38v1h-38zM553 486h2v1h-2zM555 485h3v1h-3zM558 484h2v1h-2zM560 483h2v1h-2zM562 482h3v1h-3zM565 481h3v1h-3zM568 480h11v1h-11zM579 481h3v1h-3zM582 482h3v1h-3zM585 483h3v1h-3zM588 484h2v1h-2zM590 485h3v1h-3zM593 486h3v1h-3zM596 487h2v1h-2zM598 488h10v1h-10zM608 487h5v1h-5zM613 486h4v1h-4zM617 485h3v1h-3zM620 484h5v1h-5zM625 485h3v1h-3zM628 486h3v1h-3zM631 487h3v1h-3zM634 488h3v1h-3zM637 489h2v1h-2zM639 490h3v1h-3zM642 491h2v1h-2zM644 492h2v1h-2zM646 493h3v1h-3zM649 494h2v1h-2zM651 495h2v1h-2zM653 496h3v1h-3zM656 497h3v1h-3zM659 498h3v1h-3zM662 499h4v1h-4zM666 500h2v1h-2zM668 501h3v1h-3zM671 502h2v1h-2zM673 503h2v1h-2zM675 504h2v1h-2zM677 505h3v1h-3zM680 506h3v1h-3zM683 507h7v1h-7zM690 506h9v1h-9zM699 507h6v1h-6zM705 508h4v1h-4zM709 509h18v1h-18zM727 508h5v1h-5zM732 507h3v1h-3zM735 506h2v1h-2zM737 505h6v1h-6z" fill="#2b8cf7"/>
<text x="77 89 101 113" y="16.2" fill="#111" font-size="12" font-weight="normal" style="font-family:'Liberation Sans','Noto Sans CJK SC',sans-serif">美元指数</text>
<text x="122.9 135.7 147.5 160.9" y="16.2" fill="#ff7f0e" font-size="12" font-weight="normal" style="font-family:'Liberation Sans','Noto Sans CJK SC',sans-serif">【日线】</text>
<g stroke="#ff8a1f" stroke-width="0.85" fill="none"><circle cx="177.7" cy="13.4" r="4.3"/><line x1="173.4" y1="13.4" x2="182" y2="13.4"/><line x1="177.7" y1="9.1" x2="177.7" y2="17.7"/></g>
<rect x="191.5" y="4.5" width="11.5" height="12.5" fill="#8a8a8a" />
<rect x="190.5" y="3.5" width="11" height="12" fill="#fff" stroke="#00007f" stroke-width="1"/>
<polyline points="191.5,9.5 194.5,6.2 196.5,8 198.5,7 201,7" fill="none" stroke="#ff0000" stroke-width="1.1"/>
<polyline points="191.5,12.5 194.5,9.2 196.5,12 198.5,10.5 201,10" fill="none" stroke="#0000ff" stroke-width="1.1"/>
<text x="205.3" y="15.6" fill="#111" font-size="12" text-anchor="start" font-weight="normal" textLength="112.5">MA1(20,50,100,200)</text>
<text x="323.5" y="15.6" fill="#3b93fb" font-size="12" text-anchor="start" font-weight="normal" textLength="81.5">MA20:98.3202</text>
<text x="413.2" y="15.6" fill="#35c58b" font-size="12" text-anchor="start" font-weight="normal" textLength="81.5">MA50:99.0605</text>
<text x="503" y="15.6" fill="#32a9e6" font-size="12" text-anchor="start" font-weight="normal" textLength="88.5">MA100:98.5922</text>
<text x="600.3" y="15.6" fill="#ff9148" font-size="12" text-anchor="start" font-weight="normal" textLength="67">MA200:98.8</text>
<rect x="741.5" y="3.5" width="13" height="13" fill="#fff" stroke="#1a7ad4" stroke-width="1"/>
<rect x="757.5" y="3.5" width="13" height="13" fill="#fff" stroke="#1a7ad4" stroke-width="1"/>
<rect x="773.5" y="3.5" width="13" height="13" fill="#fff" stroke="#1a7ad4" stroke-width="1"/>
<rect x="789.5" y="3.5" width="13" height="13" fill="#fff" stroke="#1a7ad4" stroke-width="1"/>
<rect x="747" y="9" width="2" height="2" fill="#1a7ad4" />
<rect x="747" y="5" width="2" height="3" fill="#1a7ad4" />
<rect x="747" y="12" width="2" height="3" fill="#1a7ad4" />
<rect x="743" y="9" width="3" height="2" fill="#1a7ad4" />
<rect x="750" y="9" width="3" height="2" fill="#1a7ad4" />
<rect x="760" y="5" width="1" height="10" fill="#1a7ad4" />
<rect x="759" y="6" width="3" height="1" fill="#1a7ad4" />
<rect x="759" y="13" width="10" height="1" fill="#1a7ad4" />
<rect x="760" y="12" width="1" height="3" fill="#1a7ad4" />
<rect x="767" y="12" width="1" height="3" fill="#1a7ad4" />
<rect x="763" y="6" width="1" height="6" fill="#1a7ad4" />
<path d="M767,5.8 L767,11.8 L764.2,8.8 Z" fill="#1a7ad4"/>
<rect x="776" y="5" width="1" height="10" fill="#1a7ad4" />
<rect x="775" y="6" width="3" height="1" fill="#1a7ad4" />
<rect x="775" y="13" width="10" height="1" fill="#1a7ad4" />
<rect x="776" y="12" width="1" height="3" fill="#1a7ad4" />
<rect x="783" y="12" width="1" height="3" fill="#1a7ad4" />
<rect x="779" y="6" width="1" height="7" fill="#1a7ad4" />
<path d="M779.5,5.8 L779.5,12.4 L784.2,9.2 Z" fill="#1a7ad4"/>
<rect x="791.5" y="5.5" width="3" height="9" fill="none" stroke="#1a7ad4" stroke-width="1"/>
<rect x="793" y="9" width="5.5" height="2" fill="#1a7ad4" />
<path d="M797,7 L800.5,10 L797,13 Z" fill="#1a7ad4"/>
<text x="77" y="349.2" fill="#111" font-size="12" text-anchor="start" font-weight="normal" >RSI(14,14,14)</text>
<text x="156.3" y="349.2" fill="#3b93fb" font-size="12" text-anchor="start" font-weight="normal" >RSI1:45.7518</text>
<text x="238" y="349.2" fill="#35c58b" font-size="12" text-anchor="start" font-weight="normal" >RSI2:45.7518</text>
<text x="320" y="349.2" fill="#32a9e6" font-size="12" text-anchor="start" font-weight="normal" >RSI3:45.7518</text>
<text x="402.5" y="348.6" fill="#b9b9bd" font-size="12" text-anchor="start" font-weight="normal" >L20:20.0000</text>
<text x="478.3" y="348.6" fill="#b9b9bd" font-size="12" text-anchor="start" font-weight="normal" >L30:30.0000</text>
<text x="554.7" y="348.6" fill="#b9b9bd" font-size="12" text-anchor="start" font-weight="normal" >L50:50.0000</text>
<text x="630.8" y="348.6" fill="#b9b9bd" font-size="12" text-anchor="start" font-weight="normal" >L70:70.0000</text>
<text x="706.6" y="348.6" fill="#b9b9bd" font-size="12" text-anchor="start" font-weight="normal" >L80:</text>
<text x="77" y="460" fill="#111" font-size="12" text-anchor="start" font-weight="normal" textLength="85">MACD(26,12,9)</text>
<text x="167.7" y="460" fill="#3b93fb" font-size="12" text-anchor="start" font-weight="normal" >DIFF:-0.2110</text>
<text x="246.3" y="460" fill="#35c58b" font-size="12" text-anchor="start" font-weight="normal" >DEA:-0.2665</text>
<text x="324" y="460" fill="#32a9e6" font-size="12" text-anchor="start" font-weight="normal" textLength="77">MACD:0.1110</text>
<rect x="12" y="449" width="4" height="1" fill="#000" />
<rect x="12" y="456" width="4" height="1" fill="#000" />
<rect x="10" y="451" width="1" height="4" fill="#000" />
<rect x="17" y="451" width="1" height="4" fill="#000" />
<rect x="11" y="450" width="1" height="1" fill="#000" />
<rect x="16" y="450" width="1" height="1" fill="#000" />
<rect x="11" y="455" width="1" height="1" fill="#000" />
<rect x="16" y="455" width="1" height="1" fill="#000" />
<rect x="12" y="452" width="4" height="2" fill="#ff0000" />
<rect x="13" y="451" width="2" height="4" fill="#ff0000" />
<rect x="7" y="452" width="2" height="1" fill="#ff0000" />
<rect x="19" y="452" width="2" height="1" fill="#ff0000" />
<rect x="13" y="446" width="1" height="2" fill="#ff0000" />
<rect x="13" y="458" width="1" height="2" fill="#ff0000" />
<rect x="8" y="447" width="1" height="1" fill="#ff0000" />
<rect x="9" y="448" width="1" height="1" fill="#ff0000" />
<rect x="19" y="447" width="1" height="1" fill="#ff0000" />
<rect x="18" y="448" width="1" height="1" fill="#ff0000" />
<rect x="8" y="458" width="1" height="1" fill="#ff0000" />
<rect x="9" y="457" width="1" height="1" fill="#ff0000" />
<rect x="19" y="458" width="1" height="1" fill="#ff0000" />
<rect x="18" y="457" width="1" height="1" fill="#ff0000" />
<rect x="122" y="539" width="1" height="6" fill="#c9d1dc" />
<text x="124" y="551" fill="#222" font-size="12" text-anchor="start" font-weight="bold" textLength="44.6">2025/06</text>
<rect x="206" y="539" width="1" height="6" fill="#c9d1dc" />
<text x="208" y="551" fill="#222" font-size="12" text-anchor="start" font-weight="bold" textLength="44.6">2025/07</text>
<rect x="298" y="539" width="1" height="6" fill="#c9d1dc" />
<text x="300" y="551" fill="#222" font-size="12" text-anchor="start" font-weight="bold" textLength="44.6">2025/08</text>
<rect x="382" y="539" width="1" height="6" fill="#c9d1dc" />
<text x="384" y="551" fill="#222" font-size="12" text-anchor="start" font-weight="bold" textLength="44.6">2025/09</text>
<rect x="470" y="539" width="1" height="6" fill="#c9d1dc" />
<text x="472" y="551" fill="#222" font-size="12" text-anchor="start" font-weight="bold" textLength="44.6">2025/10</text>
<rect x="562" y="539" width="1" height="6" fill="#c9d1dc" />
<text x="564" y="551" fill="#222" font-size="12" text-anchor="start" font-weight="bold" textLength="44.6">2025/11</text>
<rect x="642" y="539" width="1" height="6" fill="#c9d1dc" />
<text x="644" y="551" fill="#222" font-size="12" text-anchor="start" font-weight="bold" textLength="44.6">2025/12</text>
<rect x="5" y="538" width="71" height="20" fill="#fff" stroke="#c5cedb" stroke-width="1"/>
<rect x="5" y="557" width="39" height="2" fill="#ff6a00" />
<text x="18.9 31.5" y="553.7" fill="#ff7f0e" font-size="12.6" font-weight="bold" style="font-family:'Liberation Sans','Noto Sans CJK SC',sans-serif">日线</text>
<path d="M49.3,553 L53.6,545 L57.9,553 Z" fill="#ff7f0e"/>
<rect x="804.5" y="251.5" width="70" height="17" fill="#fff" stroke="#ff7f0e" stroke-width="1"/>
<text x="807.3" y="264.1" fill="#ff7f0e" font-size="12" text-anchor="start" font-weight="normal" >98.3560</text>
<path d="M864,247 L868,243 L872,247 Z M863.6,251 L868,247.2 L872.4,251 Z" fill="#ff7f0e"/>
<text x="742.6" y="534.8" font-size="28.6" letter-spacing="4.1" fill="#c9a78f" fill-opacity="0.5">FX678</text>
<text x="741.8" y="534" font-size="28.6" letter-spacing="4.1" fill="#c6d4e8" fill-opacity="0.95">FX678</text>
</svg>
</body></html>
